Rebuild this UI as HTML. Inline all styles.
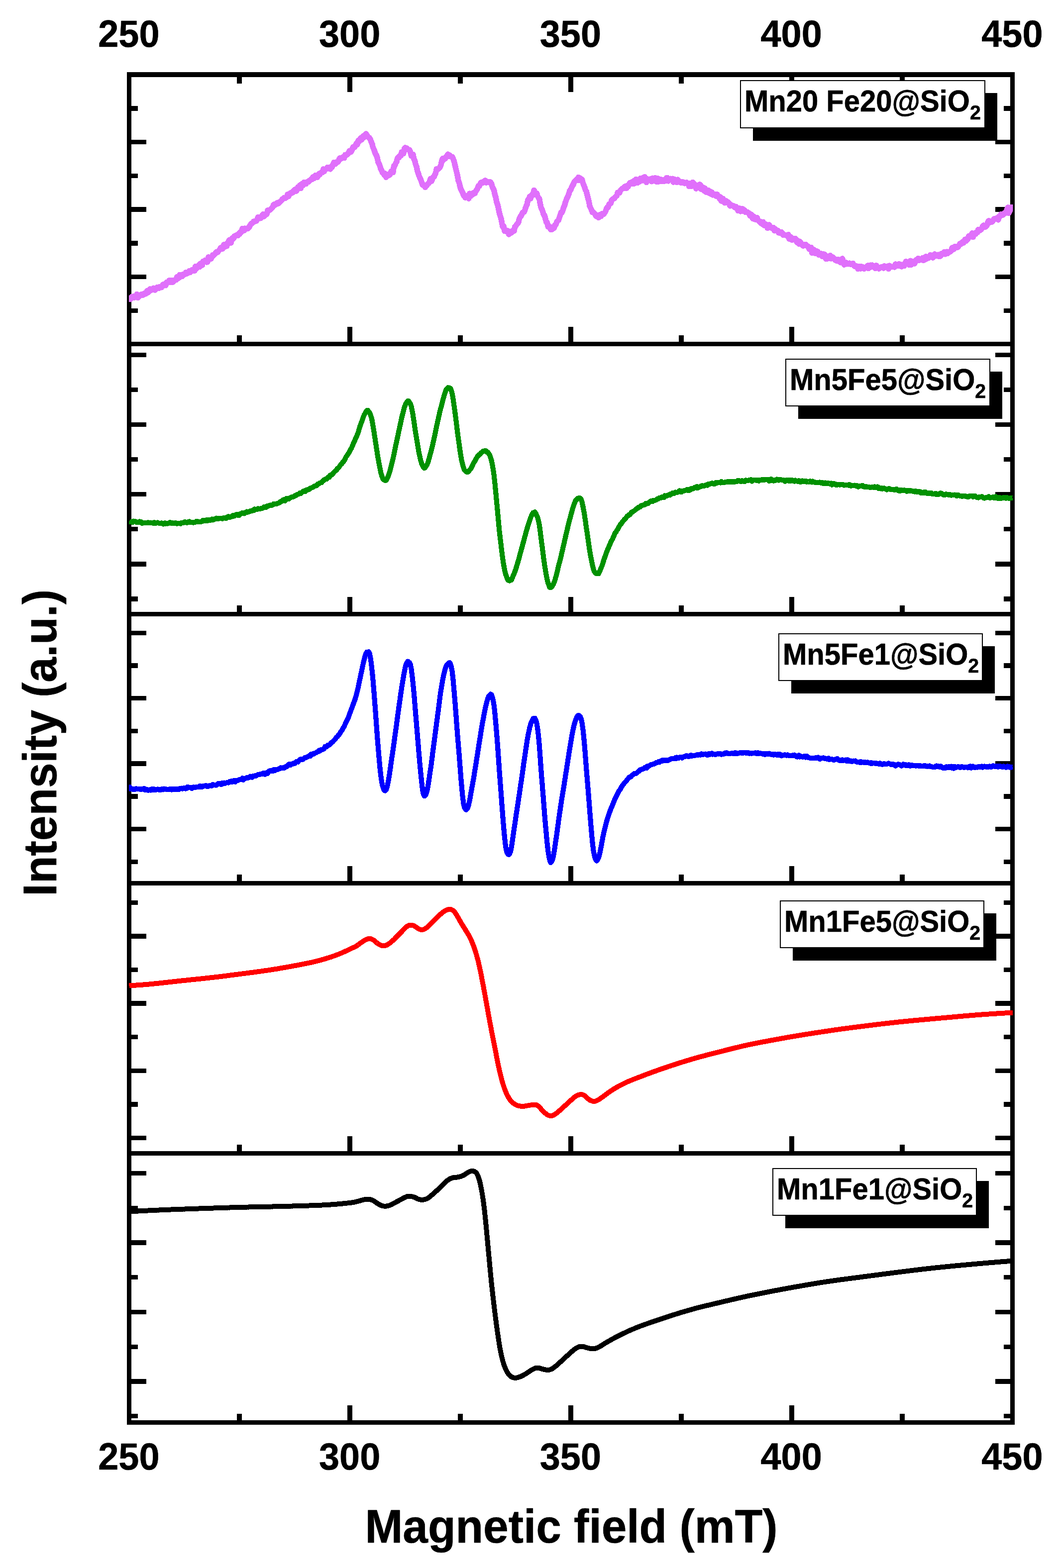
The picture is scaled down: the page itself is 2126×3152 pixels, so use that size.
<!DOCTYPE html>
<html lang="en"><head><meta charset="utf-8"><title>EPR spectra</title>
<style>html,body{margin:0;padding:0;background:#fff}body{width:2126px;height:3152px;overflow:hidden}svg{display:block}text{font-family:"Liberation Sans",sans-serif;font-weight:bold;fill:#000;stroke:#000;stroke-width:0.6px;stroke-linejoin:round}.tk{font-size:75px;text-anchor:middle}.ax{font-size:91px;text-anchor:middle}.lg{font-size:58px}.sub{font-size:39.5px}</style></head><body>
<svg width="2126" height="3152" viewBox="0 0 2126 3152">
<rect x="0" y="0" width="2126" height="3152" fill="#fff"/>
<g fill="#000" shape-rendering="crispEdges">
<rect x="255" y="145" width="9" height="2719"/>
<rect x="2030" y="145" width="9" height="2719"/>
<rect x="255" y="145" width="1784" height="10"/>
<rect x="255" y="2855" width="1784" height="9"/>
<rect x="255" y="687" width="1784" height="9"/>
<rect x="255" y="1230" width="1784" height="9"/>
<rect x="255" y="1771" width="1784" height="9"/>
<rect x="255" y="2314" width="1784" height="9"/>
<rect x="698" y="155" width="10" height="30"/>
<rect x="1142" y="155" width="10" height="30"/>
<rect x="1586" y="155" width="10" height="30"/>
<rect x="476" y="155" width="10" height="13"/>
<rect x="920" y="155" width="10" height="13"/>
<rect x="1364" y="155" width="10" height="13"/>
<rect x="1808" y="155" width="10" height="13"/>
<rect x="698" y="657" width="10" height="30"/>
<rect x="1142" y="657" width="10" height="30"/>
<rect x="1586" y="657" width="10" height="30"/>
<rect x="476" y="674" width="10" height="13"/>
<rect x="920" y="674" width="10" height="13"/>
<rect x="1364" y="674" width="10" height="13"/>
<rect x="1808" y="674" width="10" height="13"/>
<rect x="698" y="1200" width="10" height="30"/>
<rect x="1142" y="1200" width="10" height="30"/>
<rect x="1586" y="1200" width="10" height="30"/>
<rect x="476" y="1217" width="10" height="13"/>
<rect x="920" y="1217" width="10" height="13"/>
<rect x="1364" y="1217" width="10" height="13"/>
<rect x="1808" y="1217" width="10" height="13"/>
<rect x="698" y="1741" width="10" height="30"/>
<rect x="1142" y="1741" width="10" height="30"/>
<rect x="1586" y="1741" width="10" height="30"/>
<rect x="476" y="1758" width="10" height="13"/>
<rect x="920" y="1758" width="10" height="13"/>
<rect x="1364" y="1758" width="10" height="13"/>
<rect x="1808" y="1758" width="10" height="13"/>
<rect x="698" y="2284" width="10" height="30"/>
<rect x="1142" y="2284" width="10" height="30"/>
<rect x="1586" y="2284" width="10" height="30"/>
<rect x="476" y="2301" width="10" height="13"/>
<rect x="920" y="2301" width="10" height="13"/>
<rect x="1364" y="2301" width="10" height="13"/>
<rect x="1808" y="2301" width="10" height="13"/>
<rect x="698" y="2825" width="10" height="30"/>
<rect x="1142" y="2825" width="10" height="30"/>
<rect x="1586" y="2825" width="10" height="30"/>
<rect x="476" y="2842" width="10" height="13"/>
<rect x="920" y="2842" width="10" height="13"/>
<rect x="1364" y="2842" width="10" height="13"/>
<rect x="1808" y="2842" width="10" height="13"/>
<rect x="264" y="213" width="13" height="10"/>
<rect x="2017" y="213" width="13" height="10"/>
<rect x="264" y="281" width="30" height="9"/>
<rect x="2000" y="281" width="30" height="9"/>
<rect x="264" y="349" width="13" height="9"/>
<rect x="2017" y="349" width="13" height="9"/>
<rect x="264" y="416" width="30" height="10"/>
<rect x="2000" y="416" width="30" height="10"/>
<rect x="264" y="484" width="13" height="10"/>
<rect x="2017" y="484" width="13" height="10"/>
<rect x="264" y="552" width="30" height="9"/>
<rect x="2000" y="552" width="30" height="9"/>
<rect x="264" y="620" width="13" height="9"/>
<rect x="2017" y="620" width="13" height="9"/>
<rect x="264" y="709" width="30" height="9"/>
<rect x="2000" y="709" width="30" height="9"/>
<rect x="264" y="779" width="13" height="9"/>
<rect x="2017" y="779" width="13" height="9"/>
<rect x="264" y="849" width="30" height="9"/>
<rect x="2000" y="849" width="30" height="9"/>
<rect x="264" y="919" width="13" height="9"/>
<rect x="2017" y="919" width="13" height="9"/>
<rect x="264" y="989" width="30" height="9"/>
<rect x="2000" y="989" width="30" height="9"/>
<rect x="264" y="1059" width="13" height="9"/>
<rect x="2017" y="1059" width="13" height="9"/>
<rect x="264" y="1129" width="30" height="10"/>
<rect x="2000" y="1129" width="30" height="10"/>
<rect x="264" y="1199" width="13" height="10"/>
<rect x="2017" y="1199" width="13" height="10"/>
<rect x="264" y="1268" width="30" height="9"/>
<rect x="2000" y="1268" width="30" height="9"/>
<rect x="264" y="1333" width="13" height="10"/>
<rect x="2017" y="1333" width="13" height="10"/>
<rect x="264" y="1399" width="30" height="9"/>
<rect x="2000" y="1399" width="30" height="9"/>
<rect x="264" y="1465" width="13" height="9"/>
<rect x="2017" y="1465" width="13" height="9"/>
<rect x="264" y="1530" width="30" height="10"/>
<rect x="2000" y="1530" width="30" height="10"/>
<rect x="264" y="1596" width="13" height="10"/>
<rect x="2017" y="1596" width="13" height="10"/>
<rect x="264" y="1662" width="30" height="9"/>
<rect x="2000" y="1662" width="30" height="9"/>
<rect x="264" y="1728" width="13" height="9"/>
<rect x="2017" y="1728" width="13" height="9"/>
<rect x="264" y="1810" width="13" height="9"/>
<rect x="2017" y="1810" width="13" height="9"/>
<rect x="264" y="1877" width="30" height="10"/>
<rect x="2000" y="1877" width="30" height="10"/>
<rect x="264" y="1945" width="13" height="9"/>
<rect x="2017" y="1945" width="13" height="9"/>
<rect x="264" y="2012" width="30" height="10"/>
<rect x="2000" y="2012" width="30" height="10"/>
<rect x="264" y="2080" width="13" height="9"/>
<rect x="2017" y="2080" width="13" height="9"/>
<rect x="264" y="2148" width="30" height="9"/>
<rect x="2000" y="2148" width="30" height="9"/>
<rect x="264" y="2215" width="13" height="10"/>
<rect x="2017" y="2215" width="13" height="10"/>
<rect x="264" y="2283" width="30" height="9"/>
<rect x="2000" y="2283" width="30" height="9"/>
<rect x="264" y="2354" width="30" height="9"/>
<rect x="2000" y="2354" width="30" height="9"/>
<rect x="264" y="2424" width="13" height="9"/>
<rect x="2017" y="2424" width="13" height="9"/>
<rect x="264" y="2493" width="30" height="10"/>
<rect x="2000" y="2493" width="30" height="10"/>
<rect x="264" y="2563" width="13" height="9"/>
<rect x="2017" y="2563" width="13" height="9"/>
<rect x="264" y="2633" width="30" height="9"/>
<rect x="2000" y="2633" width="30" height="9"/>
<rect x="264" y="2703" width="13" height="9"/>
<rect x="2017" y="2703" width="13" height="9"/>
<rect x="264" y="2772" width="30" height="10"/>
<rect x="2000" y="2772" width="30" height="10"/>
<rect x="264" y="2842" width="13" height="9"/>
<rect x="2017" y="2842" width="13" height="9"/>
</g>
<clipPath id="cp"><rect x="259" y="150" width="1776.5" height="2710"/></clipPath>
<g fill="none" stroke-linejoin="round" stroke-linecap="butt" clip-path="url(#cp)" shape-rendering="crispEdges">
<path stroke="#e070fb" stroke-width="11.5" d="M259.5 598.9L261.2 601.6L263 601L264.8 596.7L266.5 596.8L268.2 595.9L270 598.1L271.8 596.2L273.5 597.7L275.2 591.3L277 598.6L278.8 594.2L280.5 595.4L282.2 593L284 591.8L285.8 593.1L287.5 593.2L289.2 590.2L291 589.6L292.8 590.8L294.5 586.5L296.2 584.3L298 587.9L299.8 584.7L301.5 581.1L303.2 582.9L305 582.9L306.8 580.5L308.5 579.1L310.2 581.8L312 583L313.8 579.7L315.5 577.7L317.2 579.5L319 579.5L320.8 576.4L322.5 577.5L324.2 577.8L326 574.2L327.8 572L329.5 573.8L331.2 572.7L333 573.8L334.8 567.5L336.5 568.1L338.2 566.8L340 563.9L341.8 567.2L343.5 567.2L345.2 563.4L347 567.3L348.8 565.1L350.5 563.7L352.2 562.3L354 562.6L355.8 556.4L357.5 559.9L359.2 558.9L361 552.5L362.8 556.3L364.5 554L366.2 555.4L368 551.6L369.8 551.6L371.5 551.5L373.2 547.7L375 550.1L376.8 547.6L378.5 548L380.2 544.8L382 547.5L383.8 545.5L385.5 542.8L387.2 543.7L389 544.1L390.8 544.4L392.5 535.7L394.2 540.3L396 538.2L397.8 535.9L399.5 532.7L401.2 536.6L403 529.7L404.8 532.6L406.5 533L408.2 525.2L410 526.8L411.8 523.2L413.5 525.4L415.2 526.9L417 526.7L418.8 516.9L420.5 518.2L422.2 519.7L424 520.3L425.8 516.4L427.5 512.4L429.2 513.3L431 511.2L432.8 509.4L434.5 506.8L436.2 507.8L438 506.1L439.8 503.7L441.5 502L443.2 498.1L445 498.3L446.8 500.5L448.5 495.9L450.2 491.6L452 496.2L453.8 492.9L455.5 494.8L457.2 488.8L459 486.1L460.8 482.4L462.5 487L464.2 488.3L466 479.2L467.8 478.1L469.5 479.4L471.2 474.8L473 474.6L474.8 473L476.5 472.8L478.2 473.4L480 469.7L481.8 470.3L483.5 466L485.2 466.4L487 459.5L488.8 459.8L490.5 463.5L492.2 459.2L494 460.5L495.8 459.2L497.5 459.7L499.2 457.3L501 456.5L502.8 452.6L504.5 450.1L506.2 448.7L508 447.9L509.8 445.1L511.5 445.1L513.2 444.7L515 444.1L516.8 441.4L518.5 436.5L520.2 439.1L522 438.4L523.8 438.8L525.5 436.2L527.2 432L529 430.4L530.8 435L532.5 430.7L534.2 431.6L536 430.8L537.8 422.8L539.5 424L541.2 422.7L543 421.5L544.8 420L546.5 417.8L548.2 416.3L550 411.1L551.8 412.7L553.5 410L555.2 410.6L557 408L558.8 409.1L560.5 408.2L562.2 405.8L564 404.5L565.8 402.8L567.5 400.3L569.2 399.7L571 397.7L572.8 398.5L574.5 396.4L576.2 396.4L578 390.9L579.8 394.6L581.5 389.7L583.2 388.5L585 388.4L586.8 386.3L588.5 387L590.2 383.8L592 381.4L593.8 380.6L595.5 384.1L597.2 380L599 375.9L600.8 377.3L602.5 372.5L604.2 378.7L606 370L607.8 373.2L609.5 372.1L611.2 366.4L613 369.1L614.8 369.5L616.5 367.1L618.2 365.5L620 365.8L621.8 362.9L623.5 362.2L625.2 360L627 360.6L628.8 356L630.5 358.8L632.2 354.8L634 352.4L635.8 354.6L637.5 356.5L639.2 353.8L641 349.4L642.8 351.1L644.5 347.4L646.2 347.1L648 346.5L649.8 340L651.5 344.6L653.2 340.7L655 340.4L656.8 337.5L658.5 336.3L660.2 336.4L662 339.2L663.8 339.9L665.5 334.8L667.2 336.1L669 331.7L670.8 326.7L672.5 330L674.2 329.3L676 325.9L677.8 326.1L679.5 325.3L681.2 320.7L683 317.9L684.8 319.2L686.5 317.8L688.2 316L690 317.5L691.8 317.6L693.5 311.3L695.2 312.2L697 311.2L698.8 309.1L700.5 308.2L702.2 303.3L704 304.1L705.8 305.1L707.5 300.6L709.2 295.7L711 296.5L712.8 296L714.5 292.1L716.2 288.1L718 290.7L719.8 282.6L721.5 284.5L723.2 281.5L725 277.2L726.8 280.9L728.5 277.6L730.2 273L732 276L733.8 272.9L735.5 269.1L737.2 271.7L739 274.3L740.8 276.3L742.5 277.4L744.2 280.3L746 285.3L747.8 289L749.5 296.4L751.2 299.8L753 304.9L754.8 310.1L756.5 312.3L758.2 317.7L760 326.3L761.8 329.5L763.5 333.7L765.2 339.6L767 342.5L768.8 347.4L770.5 348.1L772.2 352L774 349L775.8 356.4L777.5 352.8L779.2 350.4L781 352.9L782.8 351.1L784.5 349.8L786.2 344.2L788 343.7L789.8 346.5L791.5 333.6L793.2 333.2L795 328.3L796.8 325.7L798.5 318.4L800.2 316.3L802 316.4L803.8 312.4L805.5 313.1L807.2 305.6L809 305L810.8 308.6L812.5 298.7L814.2 296.9L816 298L817.8 297.9L819.5 300.8L821.2 300.9L823 301.3L824.8 306L826.5 313.8L828.2 314.3L830 310.5L831.8 319.5L833.5 322.9L835.2 330.4L837 334.9L838.8 344L840.5 348.5L842.2 353.8L844 357.8L845.8 362.1L847.5 366.8L849.2 371.9L851 372.7L852.8 372.1L854.5 376.5L856.2 373.8L858 372.4L859.8 369.6L861.5 368.4L863.2 366.2L865 359.3L866.8 364.5L868.5 360.7L870.2 356.2L872 355.8L873.8 351.5L875.5 348.3L877.2 339.6L879 340.9L880.8 339.3L882.5 338.3L884.2 335.7L886 331.8L887.8 323.7L889.5 318.6L891.2 321.7L893 318.3L894.8 318.5L896.5 314.8L898.2 314.6L900 310.1L901.8 314.3L903.5 312.1L905.2 314.1L907 315L908.8 315.4L910.5 319.2L912.2 323.2L914 330.8L915.8 338.5L917.5 345.4L919.2 352.7L921 362.8L922.8 367.5L924.5 375.6L926.2 380.7L928 384.2L929.8 387.6L931.5 392.3L933.2 394.8L935 397.2L936.8 393.5L938.5 394.9L940.2 395.7L942 399L943.8 389.2L945.5 394.5L947.2 391.1L949 391.8L950.8 388.1L952.5 388.2L954.2 388.9L956 384.2L957.8 382.1L959.5 379.2L961.2 374L963 374L964.8 370.3L966.5 367.2L968.2 367.5L970 365.8L971.8 367L973.5 364.4L975.2 362.8L977 367L978.8 365.8L980.5 366.7L982.2 365.9L984 365.4L985.8 366.4L987.5 369.1L989.2 375.2L991 378.9L992.8 382.9L994.5 391.5L996.2 396.7L998 405.8L999.8 411.2L1001.5 418.2L1003.2 427L1005 433.8L1006.8 438.5L1008.5 448.2L1010.2 456.1L1012 454.5L1013.8 464.3L1015.5 461.7L1017.2 463.9L1019 466.1L1020.8 464.1L1022.5 471L1024.2 469.5L1026 466.9L1027.8 467.9L1029.5 464.3L1031.2 464.8L1033 464.2L1034.8 455.5L1036.5 454.1L1038.2 451.5L1040 449.7L1041.8 446.8L1043.5 439.8L1045.2 435.8L1047 434.8L1048.8 430L1050.5 427.1L1052.2 426.8L1054 424.9L1055.8 418.8L1057.5 413.9L1059.2 410.4L1061 401.4L1062.8 400.3L1064.5 394.9L1066.2 399.2L1068 393.5L1069.8 390.5L1071.5 388.4L1073.2 382.3L1075 389.3L1076.8 391.9L1078.5 388.3L1080.2 393.9L1082 397.5L1083.8 399.4L1085.5 409.6L1087.2 417.2L1089 421.1L1090.8 425.6L1092.5 431.8L1094.2 432.6L1096 440.1L1097.8 446.5L1099.5 447.3L1101.2 455.5L1103 456.5L1104.8 455.5L1106.5 461.2L1108.2 459L1110 461L1111.8 456L1113.5 458.5L1115.2 452.2L1117 451.4L1118.8 446.4L1120.5 443.6L1122.2 442.9L1124 437.4L1125.8 432.4L1127.5 426.9L1129.2 427.3L1131 422.4L1132.8 416.3L1134.5 413L1136.2 406.4L1138 401.8L1139.8 397.2L1141.5 394.2L1143.2 389.4L1145 383.1L1146.8 381.5L1148.5 377.6L1150.2 372.9L1152 371.3L1153.8 365.7L1155.5 363.7L1157.2 363L1159 360.4L1160.8 361.4L1162.5 356.3L1164.2 362.6L1166 358.3L1167.8 361.1L1169.5 360.6L1171.2 367.5L1173 372.2L1174.8 376.5L1176.5 381.8L1178.2 384.5L1180 391.9L1181.8 399.3L1183.5 405.6L1185.2 414.8L1187 418.5L1188.8 422.4L1190.5 426.8L1192.2 426.5L1194 428.4L1195.8 430L1197.5 434.3L1199.2 434.9L1201 435.9L1202.8 437.4L1204.5 431.9L1206.2 433.6L1208 434.5L1209.8 429.8L1211.5 429.6L1213.2 430.4L1215 427.8L1216.8 424.9L1218.5 420.1L1220.2 416.8L1222 416.5L1223.8 410.7L1225.5 409.4L1227.2 408.9L1229 403L1230.8 400.3L1232.5 399.5L1234.2 398.9L1236 396.8L1237.8 394.3L1239.5 393.5L1241.2 387.1L1243 387L1244.8 387.5L1246.5 383.4L1248.2 380.9L1250 379.5L1251.8 378.5L1253.5 378.5L1255.2 375.1L1257 376.5L1258.8 378.4L1260.5 373L1262.2 375L1264 371.7L1265.8 367.5L1267.5 368.5L1269.2 366L1271 369.2L1272.8 364.1L1274.5 369.1L1276.2 366.8L1278 360.3L1279.8 366.2L1281.5 367.4L1283.2 361.6L1285 365.3L1286.8 358.5L1288.5 362.9L1290.2 358.2L1292 362.9L1293.8 357.5L1295.5 355.4L1297.2 362.2L1299 366.5L1300.8 359.8L1302.5 363L1304.2 361.3L1306 360.3L1307.8 362.4L1309.5 364.8L1311.2 358.2L1313 362.3L1314.8 361.8L1316.5 357.7L1318.2 364.7L1320 365.5L1321.8 358.8L1323.5 365L1325.2 361.1L1327 360.6L1328.8 364.5L1330.5 361.5L1332.2 361.8L1334 364.5L1335.8 364L1337.5 363.1L1339.2 357.9L1341 357.5L1342.8 363.8L1344.5 359.2L1346.2 361.8L1348 359.2L1349.8 361.4L1351.5 359.2L1353.2 366.2L1355 360.4L1356.8 362.9L1358.5 363.1L1360.2 366.7L1362 361.2L1363.8 364.8L1365.5 364.8L1367.2 366.9L1369 367.2L1370.8 365.5L1372.5 367.5L1374.2 366.4L1376 368.7L1377.8 367.8L1379.5 366.9L1381.2 368.7L1383 369.9L1384.8 374.7L1386.5 368.8L1388.2 371L1390 374.1L1391.8 366.5L1393.5 367.8L1395.2 369.6L1397 372.7L1398.8 379.1L1400.5 375.1L1402.2 377.7L1404 375.2L1405.8 370.8L1407.5 372L1409.2 380.4L1411 379.3L1412.8 376.8L1414.5 383.2L1416.2 378.1L1418 385L1419.8 386.7L1421.5 382.6L1423.2 382.7L1425 388.1L1426.8 384.6L1428.5 390L1430.2 386.3L1432 391.8L1433.8 391.1L1435.5 390.9L1437.2 390.9L1439 394.4L1440.8 390.6L1442.5 395.3L1444.2 396L1446 399.5L1447.8 396.1L1449.5 403.9L1451.2 400.3L1453 399.5L1454.8 406.3L1456.5 407.9L1458.2 404.8L1460 404.2L1461.8 407.3L1463.5 406.7L1465.2 408.6L1467 413.8L1468.8 412L1470.5 412.4L1472.2 413.7L1474 413.7L1475.8 416.5L1477.5 417.4L1479.2 415.4L1481 417.3L1482.8 423.3L1484.5 419.6L1486.2 419L1488 424.9L1489.8 421.1L1491.5 419.5L1493.2 424.5L1495 421.8L1496.8 423.7L1498.5 426.6L1500.2 426.7L1502 426.3L1503.8 427.9L1505.5 428.9L1507.2 434L1509 430.9L1510.8 432.3L1512.5 439.4L1514.2 434.7L1516 440.4L1517.8 441.2L1519.5 439L1521.2 437.3L1523 442.7L1524.8 444.4L1526.5 446.2L1528.2 445.3L1530 449L1531.8 450.6L1533.5 446.2L1535.2 452.9L1537 451.2L1538.8 450.7L1540.5 452.3L1542.2 458.3L1544 457.3L1545.8 452.1L1547.5 457.3L1549.2 457.8L1551 458.7L1552.8 458.8L1554.5 457.6L1556.2 463.8L1558 460.6L1559.8 462.7L1561.5 463.1L1563.2 463.7L1565 467.9L1566.8 467.9L1568.5 466.4L1570.2 466.6L1572 468.6L1573.8 472.7L1575.5 471.6L1577.2 472.7L1579 472.3L1580.8 473.3L1582.5 475.3L1584.2 471.5L1586 480.2L1587.8 475.6L1589.5 477L1591.2 482.3L1593 480.7L1594.8 481.2L1596.5 480.7L1598.2 479.5L1600 484.4L1601.8 487.7L1603.5 484L1605.2 490.2L1607 485.6L1608.8 487.6L1610.5 491.4L1612.2 491.4L1614 494.1L1615.8 491.9L1617.5 492.3L1619.2 491.5L1621 494.1L1622.8 495.4L1624.5 495.7L1626.2 500.6L1628 499.4L1629.8 497.4L1631.5 508.5L1633.2 502L1635 502L1636.8 508.5L1638.5 509.3L1640.2 504.9L1642 505L1643.8 506.9L1645.5 512.5L1647.2 510L1649 509.7L1650.8 512.2L1652.5 515.7L1654.2 510.4L1656 513.4L1657.8 511.8L1659.5 520.5L1661.2 520.3L1663 519L1664.8 517.1L1666.5 519.5L1668.2 513.7L1670 519.8L1671.8 516.6L1673.5 517.2L1675.2 519.2L1677 520.6L1678.8 523.2L1680.5 524.1L1682.2 523.6L1684 521.4L1685.8 525.6L1687.5 524.3L1689.2 527.8L1691 523.6L1692.8 519.9L1694.5 525.6L1696.2 532.1L1698 528.8L1699.8 527.8L1701.5 530.8L1703.2 530.4L1705 530.8L1706.8 529.1L1708.5 530.9L1710.2 531.7L1712 530.2L1713.8 529.6L1715.5 532.9L1717.2 535.2L1719 534.9L1720.8 535L1722.5 535.4L1724.2 540.5L1726 535.5L1727.8 537.6L1729.5 540L1731.2 535.9L1733 536.6L1734.8 538.6L1736.5 540.2L1738.2 537.2L1740 537.5L1741.8 537L1743.5 534.1L1745.2 539.5L1747 536.4L1748.8 533.1L1750.5 536.8L1752.2 533.1L1754 534.8L1755.8 537.2L1757.5 535L1759.2 539.5L1761 533.6L1762.8 537.6L1764.5 538.2L1766.2 540.2L1768 538.9L1769.8 537.2L1771.5 536.8L1773.2 536.4L1775 539L1776.8 534.8L1778.5 537.4L1780.2 535.9L1782 536.5L1783.8 535.2L1785.5 540.6L1787.2 534.1L1789 536.1L1790.8 536L1792.5 536.6L1794.2 536.1L1796 535.9L1797.8 537L1799.5 531.1L1801.2 534.4L1803 531.3L1804.8 534.4L1806.5 530.9L1808.2 531.1L1810 532.9L1811.8 535.9L1813.5 533.6L1815.2 532.5L1817 534.6L1818.8 528.7L1820.5 525.5L1822.2 528.7L1824 528.4L1825.8 531.3L1827.5 532.7L1829.2 524.2L1831 532.3L1832.8 529.6L1834.5 527.3L1836.2 525.7L1838 529.9L1839.8 524L1841.5 522.3L1843.2 523.3L1845 519.4L1846.8 523.2L1848.5 521.5L1850.2 522.2L1852 521.9L1853.8 518.3L1855.5 523.4L1857.2 517.7L1859 521.7L1860.8 515.7L1862.5 519.9L1864.2 516.8L1866 518.4L1867.8 516.5L1869.5 512.6L1871.2 514.7L1873 517L1874.8 517.9L1876.5 512.7L1878.2 510.8L1880 513.3L1881.8 514.4L1883.5 513L1885.2 512.1L1887 515.4L1888.8 515.1L1890.5 514.1L1892.2 509.6L1894 511.3L1895.8 510L1897.5 506.4L1899.2 510.9L1901 508.3L1902.8 506.1L1904.5 509.4L1906.2 507L1908 506.2L1909.8 505.9L1911.5 503.7L1913.2 498.1L1915 498.9L1916.8 500.9L1918.5 495.8L1920.2 496.4L1922 496L1923.8 497.2L1925.5 495.6L1927.2 493.5L1929 489.9L1930.8 491.1L1932.5 489L1934.2 486.2L1936 488.4L1937.8 485.3L1939.5 481.2L1941.2 484.5L1943 479.9L1944.8 480.6L1946.5 474.6L1948.2 476.7L1950 473.4L1951.8 472.1L1953.5 468.8L1955.2 476.7L1957 470.3L1958.8 469.9L1960.5 470.7L1962.2 466.7L1964 466.9L1965.8 461.5L1967.5 463.7L1969.2 461.2L1971 462L1972.8 460L1974.5 455.3L1976.2 453L1978 453.7L1979.8 456.4L1981.5 454.5L1983.2 453.2L1985 446.6L1986.8 443.9L1988.5 447.3L1990.2 446.8L1992 444.9L1993.8 445.9L1995.5 443.5L1997.2 440L1999 439.5L2000.8 440.6L2002.5 439.3L2004.2 437.7L2006 441.8L2007.8 435L2009.5 434.6L2011.2 431L2013 431.3L2014.8 432.1L2016.5 431.1L2018.2 428.3L2020 428.5L2021.8 426.7L2023.5 421.2L2025.2 417L2027 428.7L2028.8 424.3L2030.5 421.3L2032.2 416.5L2034 416.6L2034.5 422.2"/>
<path stroke="#009100" stroke-width="10.2" d="M259.5 1047.7L261.2 1048.8L263 1048.7L264.8 1048.9L266.5 1049.9L268.2 1047.6L270 1048.3L271.8 1047.9L273.5 1049.2L275.2 1050.3L277 1049.6L278.8 1050.2L280.5 1048.2L282.2 1050.2L284 1049.3L285.8 1051.9L287.5 1051.2L289.2 1051.4L291 1050.6L292.8 1051.3L294.5 1051.4L296.2 1050.6L298 1050.5L299.8 1050.9L301.5 1050.6L303.2 1050.7L305 1051L306.8 1050.7L308.5 1052.1L310.2 1050L312 1052.3L313.8 1051L315.5 1051.2L317.2 1050.5L319 1051.6L320.8 1051.6L322.5 1052L324.2 1051.4L326 1052L327.8 1053.5L329.5 1052.3L331.2 1051.4L333 1052.7L334.8 1051.8L336.5 1052.4L338.2 1052.4L340 1051.4L341.8 1050L343.5 1051.4L345.2 1052.1L347 1051.2L348.8 1051.9L350.5 1052.3L352.2 1050.9L354 1052.4L355.8 1052.7L357.5 1052.1L359.2 1052.1L361 1052L362.8 1052.9L364.5 1051L366.2 1050.8L368 1051.2L369.8 1049.8L371.5 1049.1L373.2 1049.6L375 1050.7L376.8 1050.7L378.5 1048.8L380.2 1048.4L382 1049.7L383.8 1049.7L385.5 1049.7L387.2 1050.3L389 1050.6L390.8 1049.6L392.5 1049.8L394.2 1048.1L396 1047.8L397.8 1048.9L399.5 1049.1L401.2 1048.9L403 1048.6L404.8 1048.5L406.5 1048.3L408.2 1045.8L410 1046.4L411.8 1047.2L413.5 1047.1L415.2 1044.9L417 1047L418.8 1045.3L420.5 1045.3L422.2 1045.5L424 1045.6L425.8 1043.4L427.5 1045.4L429.2 1044.3L431 1043.3L432.8 1043.5L434.5 1041.6L436.2 1042.7L438 1043.2L439.8 1042.2L441.5 1042.3L443.2 1042.2L445 1042.1L446.8 1042.7L448.5 1041.4L450.2 1040.9L452 1041.3L453.8 1042.3L455.5 1039.8L457.2 1040.2L459 1038L460.8 1040.2L462.5 1039.2L464.2 1039.4L466 1037.7L467.8 1036.4L469.5 1037.7L471.2 1037.1L473 1035.2L474.8 1034.2L476.5 1035.4L478.2 1034.4L480 1036.4L481.8 1033L483.5 1032.6L485.2 1032.5L487 1030.6L488.8 1030.8L490.5 1032.6L492.2 1030.5L494 1029.6L495.8 1028.5L497.5 1029.7L499.2 1029.2L501 1028.4L502.8 1027.4L504.5 1027.5L506.2 1027.1L508 1025.6L509.8 1026.3L511.5 1023.4L513.2 1023.7L515 1024.1L516.8 1023.8L518.5 1022.4L520.2 1023.2L522 1023.4L523.8 1022.4L525.5 1021.7L527.2 1021.7L529 1020.9L530.8 1019L532.5 1019.4L534.2 1020.2L536 1017.5L537.8 1018.1L539.5 1017.2L541.2 1016.2L543 1015.5L544.8 1015.9L546.5 1015.6L548.2 1015L550 1012.8L551.8 1013.2L553.5 1013.2L555.2 1013L557 1012.1L558.8 1011.6L560.5 1011.2L562.2 1010.2L564 1008.1L565.8 1008.1L567.5 1006.7L569.2 1004.6L571 1004.4L572.8 1006.9L574.5 1003.4L576.2 1001.7L578 1002.3L579.8 1003.3L581.5 1001.2L583.2 1000.8L585 999.4L586.8 998.8L588.5 999.2L590.2 998L592 996.4L593.8 996.5L595.5 995.8L597.2 994L599 993.6L600.8 992.8L602.5 991.2L604.2 992L606 990.1L607.8 988.9L609.5 987.2L611.2 986.8L613 988.3L614.8 985.3L616.5 985.8L618.2 984.2L620 984.1L621.8 983.3L623.5 981.3L625.2 980.8L627 980.2L628.8 979.3L630.5 978.2L632.2 977L634 976.8L635.8 976.3L637.5 974.6L639.2 972.5L641 972.4L642.8 971L644.5 970.2L646.2 970.2L648 967.4L649.8 966.4L651.5 964.6L653.2 963.8L655 962.4L656.8 962.8L658.5 960.5L660.2 958.6L662 959.1L663.8 955.2L665.5 955.4L667.2 954L669 952.1L670.8 949.9L672.5 948.3L674.2 946.5L676 945.4L677.8 941.5L679.5 940.8L681.2 939.2L683 936.6L684.8 933.7L686.5 932.4L688.2 929.7L690 928.1L691.8 925.8L693.5 922.4L695.2 918.6L697 916.7L698.8 913.4L700.5 911.1L702.2 908.4L704 904.5L705.8 901.7L707.5 897.9L709.2 894L711 889.6L712.8 886.2L714.5 881.6L716.2 878.3L718 873.6L719.8 869.2L721.5 863.5L723.2 857.5L725 852.7L726.8 847.8L728.5 843.2L730.2 837.9L732 833.7L733.8 830.6L735.5 827.3L737.2 825.2L739 824.7L740.8 828.5L742.5 829.1L744.2 832.8L746 838.3L747.8 845.7L749.5 855.5L751.2 866.4L753 877.9L754.8 889.3L756.5 900.8L758.2 912L760 922.5L761.8 932.5L763.5 941.2L765.2 949.5L767 956L768.8 960.8L770.5 964.1L772.2 964.9L774 966.1L775.8 965.3L777.5 963.2L779.2 959.4L781 954.9L782.8 949.2L784.5 943L786.2 936.1L788 929.4L789.8 922L791.5 913.6L793.2 905.2L795 896.7L796.8 888.5L798.5 880.6L800.2 872.2L802 864.2L803.8 855.9L805.5 847.8L807.2 839.7L809 832.6L810.8 825.4L812.5 819.1L814.2 814.8L816 810.7L817.8 807.6L819.5 805.7L821.2 806.3L823 809L824.8 812.3L826.5 817L828.2 824.8L830 835.3L831.8 847.4L833.5 858.9L835.2 870.2L837 881.4L838.8 892L840.5 902.1L842.2 911.3L844 919.6L845.8 926.7L847.5 932.5L849.2 935.9L851 939.4L852.8 941L854.5 939.8L856.2 937.2L858 934.4L859.8 930.2L861.5 924.5L863.2 918L865 911.4L866.8 905L868.5 898.2L870.2 890.7L872 882.7L873.8 874.5L875.5 866.2L877.2 857.6L879 849.7L880.8 841.4L882.5 833.6L884.2 826.3L886 819.7L887.8 813.3L889.5 805.7L891.2 799.9L893 793.5L894.8 787.8L896.5 783.4L898.2 782L900 779.2L901.8 780L903.5 779.6L905.2 781.1L907 784.9L908.8 791.9L910.5 802.2L912.2 813.9L914 826.6L915.8 840L917.5 854.1L919.2 868.1L921 881.6L922.8 894.4L924.5 906.5L926.2 917.5L928 927.1L929.8 934.5L931.5 940.3L933.2 944.8L935 946.4L936.8 948.3L938.5 949L940.2 948.7L942 947.2L943.8 944.5L945.5 943L947.2 940.1L949 936.7L950.8 932.3L952.5 929.5L954.2 927.2L956 923.1L957.8 920.4L959.5 917.4L961.2 915.8L963 913.9L964.8 913.2L966.5 910.5L968.2 909.4L970 907.1L971.8 907.1L973.5 906.5L975.2 906.7L977 906.4L978.8 909.6L980.5 909.2L982.2 911.9L984 914.4L985.8 919.5L987.5 925.4L989.2 932.8L991 943.4L992.8 956.3L994.5 971.7L996.2 989.4L998 1008.5L999.8 1027.7L1001.5 1046.7L1003.2 1064.9L1005 1080.8L1006.8 1095.8L1008.5 1110L1010.2 1123.1L1012 1134.7L1013.8 1144.5L1015.5 1152.3L1017.2 1157.5L1019 1162.3L1020.8 1166L1022.5 1167.3L1024.2 1167.5L1026 1166.5L1027.8 1165.9L1029.5 1161.4L1031.2 1157.3L1033 1153.6L1034.8 1148.6L1036.5 1143.8L1038.2 1138.2L1040 1132.2L1041.8 1126.3L1043.5 1119.8L1045.2 1113.3L1047 1106.9L1048.8 1100.5L1050.5 1094.4L1052.2 1087.9L1054 1081.3L1055.8 1074.6L1057.5 1068.1L1059.2 1062.4L1061 1056.8L1062.8 1051.4L1064.5 1045.9L1066.2 1040.9L1068 1036.8L1069.8 1032.8L1071.5 1030.4L1073.2 1030.4L1075 1029.1L1076.8 1032.3L1078.5 1036.2L1080.2 1040.4L1082 1046.4L1083.8 1055.4L1085.5 1067.8L1087.2 1081.6L1089 1095.4L1090.8 1109.2L1092.5 1122.5L1094.2 1135L1096 1146.3L1097.8 1156.4L1099.5 1164.9L1101.2 1171.7L1103 1176.6L1104.8 1181L1106.5 1181.3L1108.2 1179.8L1110 1177.8L1111.8 1174.6L1113.5 1170.8L1115.2 1166L1117 1159.6L1118.8 1152.6L1120.5 1145.6L1122.2 1138.2L1124 1131.7L1125.8 1124.5L1127.5 1117.7L1129.2 1110.1L1131 1102.6L1132.8 1095.1L1134.5 1087.3L1136.2 1079.9L1138 1072.1L1139.8 1064.6L1141.5 1057.3L1143.2 1050.2L1145 1043.5L1146.8 1036.7L1148.5 1030.6L1150.2 1024.2L1152 1018.6L1153.8 1013.2L1155.5 1008.8L1157.2 1005.5L1159 1004.1L1160.8 1001.9L1162.5 1001.9L1164.2 1000.8L1166 1001.8L1167.8 1003.4L1169.5 1009L1171.2 1016.9L1173 1026.2L1174.8 1036.9L1176.5 1048.4L1178.2 1060.4L1180 1072.6L1181.8 1085L1183.5 1097.3L1185.2 1108.5L1187 1118.5L1188.8 1127.7L1190.5 1136.4L1192.2 1142.9L1194 1148.4L1195.8 1151.2L1197.5 1152.7L1199.2 1152.4L1201 1151.5L1202.8 1153.3L1204.5 1149.3L1206.2 1146L1208 1141.3L1209.8 1137.2L1211.5 1131.9L1213.2 1126.1L1215 1121L1216.8 1115.9L1218.5 1111.1L1220.2 1106.6L1222 1102.9L1223.8 1098.4L1225.5 1094.5L1227.2 1090.2L1229 1086.8L1230.8 1083.7L1232.5 1079.2L1234.2 1075.8L1236 1071.2L1237.8 1069.6L1239.5 1066.1L1241.2 1063.8L1243 1060.5L1244.8 1057.3L1246.5 1054.5L1248.2 1053L1250 1050.4L1251.8 1047.5L1253.5 1046L1255.2 1043.6L1257 1042.5L1258.8 1039.9L1260.5 1037.6L1262.2 1036.7L1264 1034.7L1265.8 1034.6L1267.5 1031.7L1269.2 1029.6L1271 1029.1L1272.8 1027.6L1274.5 1026.7L1276.2 1025.4L1278 1023.2L1279.8 1022.8L1281.5 1021.7L1283.2 1019.7L1285 1019.2L1286.8 1018.8L1288.5 1016.4L1290.2 1015.9L1292 1015.5L1293.8 1014.9L1295.5 1014.6L1297.2 1012.2L1299 1012.8L1300.8 1012.3L1302.5 1012.3L1304.2 1009.9L1306 1008.7L1307.8 1007.4L1309.5 1008.4L1311.2 1008.3L1313 1005.9L1314.8 1006.1L1316.5 1005.8L1318.2 1005.1L1320 1003.3L1321.8 1003.5L1323.5 1002.2L1325.2 1000.7L1327 1001.1L1328.8 1000.5L1330.5 998.7L1332.2 999.3L1334 1000L1335.8 996.3L1337.5 997.6L1339.2 997.2L1341 995.9L1342.8 995.5L1344.5 994.4L1346.2 995.3L1348 992.7L1349.8 992.9L1351.5 990.8L1353.2 992.2L1355 991.8L1356.8 989.5L1358.5 989.7L1360.2 990.4L1362 989.1L1363.8 987.9L1365.5 986.3L1367.2 988.4L1369 989.3L1370.8 986.8L1372.5 987.1L1374.2 986.6L1376 985.7L1377.8 985.5L1379.5 985L1381.2 983.7L1383 986.3L1384.8 986L1386.5 983.5L1388.2 984.3L1390 981.6L1391.8 981.7L1393.5 982.4L1395.2 980L1397 979.4L1398.8 980.4L1400.5 977.9L1402.2 980.8L1404 979.5L1405.8 978.6L1407.5 978.6L1409.2 976.7L1411 976.3L1412.8 977.4L1414.5 977.1L1416.2 976L1418 975.4L1419.8 974.5L1421.5 975.8L1423.2 972.9L1425 973L1426.8 972.9L1428.5 971.7L1430.2 971.5L1432 971.4L1433.8 972.9L1435.5 973.3L1437.2 971.7L1439 969.7L1440.8 970.3L1442.5 970.5L1444.2 970.2L1446 969.9L1447.8 970.5L1449.5 968.1L1451.2 969.2L1453 969.7L1454.8 970L1456.5 969.5L1458.2 969.1L1460 968.9L1461.8 968.2L1463.5 968.8L1465.2 968.4L1467 967.8L1468.8 969.4L1470.5 969.3L1472.2 967.8L1474 968.5L1475.8 968.9L1477.5 967.9L1479.2 967.7L1481 967.9L1482.8 965.8L1484.5 965.9L1486.2 967.5L1488 967.2L1489.8 968L1491.5 966.2L1493.2 967.5L1495 967.3L1496.8 968L1498.5 965.4L1500.2 965.7L1502 966.2L1503.8 966L1505.5 964.8L1507.2 965.1L1509 964.3L1510.8 967.5L1512.5 965.2L1514.2 965.2L1516 964.6L1517.8 965.1L1519.5 965.7L1521.2 964.7L1523 964.9L1524.8 966.8L1526.5 965.7L1528.2 965L1530 964.4L1531.8 964.7L1533.5 964.1L1535.2 965L1537 964.1L1538.8 964L1540.5 964.3L1542.2 963.7L1544 964.9L1545.8 967L1547.5 964.2L1549.2 963.2L1551 965.6L1552.8 964.7L1554.5 966.6L1556.2 965.2L1558 965.7L1559.8 964.2L1561.5 963.5L1563.2 964.8L1565 965.6L1566.8 964.3L1568.5 963.7L1570.2 964.7L1572 964.9L1573.8 965.1L1575.5 965.4L1577.2 967.7L1579 965.6L1580.8 965.2L1582.5 964.8L1584.2 966.6L1586 964.6L1587.8 967.4L1589.5 966.2L1591.2 965L1593 966.6L1594.8 966.5L1596.5 967.8L1598.2 965.5L1600 967.1L1601.8 967L1603.5 968L1605.2 966.3L1607 966.7L1608.8 969.2L1610.5 968.1L1612.2 966.4L1614 968.1L1615.8 967.2L1617.5 967.4L1619.2 967L1621 969L1622.8 967.8L1624.5 968.5L1626.2 968.5L1628 967.2L1629.8 968L1631.5 969.5L1633.2 967.5L1635 969.3L1636.8 969.1L1638.5 969.9L1640.2 970.1L1642 970.4L1643.8 969.9L1645.5 970.2L1647.2 969.5L1649 969.9L1650.8 971.3L1652.5 970.2L1654.2 971.8L1656 972L1657.8 970.6L1659.5 972L1661.2 970.9L1663 972.1L1664.8 971.3L1666.5 972.5L1668.2 972.5L1670 971.6L1671.8 974.6L1673.5 973.8L1675.2 971.7L1677 973.6L1678.8 973.1L1680.5 975.4L1682.2 973.7L1684 974.3L1685.8 973.9L1687.5 974.8L1689.2 973.9L1691 973.7L1692.8 974.2L1694.5 974.4L1696.2 975.5L1698 975.1L1699.8 974.8L1701.5 974.9L1703.2 974.6L1705 975.6L1706.8 973.8L1708.5 975.6L1710.2 977L1712 975.7L1713.8 975.6L1715.5 976.3L1717.2 975.6L1719 975.9L1720.8 977.3L1722.5 976.2L1724.2 978.7L1726 977.6L1727.8 977.1L1729.5 976.8L1731.2 977.3L1733 975.6L1734.8 978L1736.5 978.7L1738.2 978.6L1740 977.9L1741.8 979L1743.5 979.2L1745.2 978.6L1747 979.2L1748.8 980L1750.5 979.7L1752.2 979.1L1754 979.6L1755.8 979.9L1757.5 978.5L1759.2 980.2L1761 980.2L1762.8 978.5L1764.5 979.1L1766.2 982.4L1768 981.1L1769.8 982.4L1771.5 981L1773.2 982.9L1775 982.2L1776.8 981.3L1778.5 982.3L1780.2 983.6L1782 984.5L1783.8 983L1785.5 982.4L1787.2 982.2L1789 983.7L1790.8 984.3L1792.5 983.6L1794.2 983.6L1796 984.6L1797.8 984.4L1799.5 984.5L1801.2 983L1803 984.2L1804.8 986.4L1806.5 984.9L1808.2 987.2L1810 985.6L1811.8 985.2L1813.5 985.9L1815.2 986.3L1817 985.3L1818.8 986.3L1820.5 985.9L1822.2 987.8L1824 986.3L1825.8 986.9L1827.5 985.7L1829.2 986L1831 987.3L1832.8 986.7L1834.5 987.5L1836.2 988.1L1838 988.6L1839.8 987L1841.5 988.3L1843.2 989.2L1845 988.2L1846.8 987.8L1848.5 988.5L1850.2 990.8L1852 989.5L1853.8 991L1855.5 989.6L1857.2 991.1L1859 988.9L1860.8 990.1L1862.5 990.6L1864.2 992.3L1866 991.3L1867.8 992.1L1869.5 990.9L1871.2 991L1873 992.7L1874.8 993L1876.5 993L1878.2 993.2L1880 991.8L1881.8 994.4L1883.5 992.8L1885.2 993.9L1887 993.6L1888.8 991.5L1890.5 991.5L1892.2 992L1894 993.6L1895.8 994.8L1897.5 993.7L1899.2 994.9L1901 993.2L1902.8 993.9L1904.5 993.8L1906.2 994.8L1908 993.8L1909.8 994.9L1911.5 995.7L1913.2 994.9L1915 994.7L1916.8 995.2L1918.5 994.6L1920.2 994.9L1922 996.7L1923.8 996.5L1925.5 995L1927.2 996.2L1929 996.9L1930.8 997.4L1932.5 997.4L1934.2 997.8L1936 997L1937.8 997.2L1939.5 997.1L1941.2 998.4L1943 998.3L1944.8 999.3L1946.5 998.8L1948.2 997.1L1950 996.7L1951.8 996.9L1953.5 997.4L1955.2 998.9L1957 997.2L1958.8 996.7L1960.5 998.5L1962.2 999.5L1964 999.6L1965.8 1000.5L1967.5 999L1969.2 998.7L1971 999L1972.8 998.2L1974.5 998.8L1976.2 1000.7L1978 1001.5L1979.8 1000.9L1981.5 1000.1L1983.2 999.7L1985 1000.2L1986.8 998.3L1988.5 1000.6L1990.2 1000.9L1992 1000.1L1993.8 1000.3L1995.5 998.8L1997.2 1001.1L1999 1001.2L2000.8 998L2002.5 1000L2004.2 1000.9L2006 1002.1L2007.8 999.9L2009.5 1000.6L2011.2 1002L2013 1001.1L2014.8 1000.5L2016.5 1000.3L2018.2 1000.8L2020 1000L2021.8 1001.7L2023.5 1000L2025.2 1001.3L2027 1001.6L2028.8 1001.8L2030.5 1000.9L2032.2 1000.8L2034 1001.1L2034.5 1000.8"/>
<path stroke="#0000ff" stroke-width="10.2" d="M259.5 1586.7L261.2 1582.4L263 1586.1L264.8 1585.4L266.5 1586.6L268.2 1585.8L270 1587.2L271.8 1585.7L273.5 1585.3L275.2 1586.3L277 1586.3L278.8 1585.7L280.5 1585.9L282.2 1586.8L284 1586.9L285.8 1585.9L287.5 1586.1L289.2 1584.9L291 1588.1L292.8 1586.5L294.5 1588L296.2 1587.2L298 1588.7L299.8 1588.4L301.5 1587.3L303.2 1588.4L305 1586.3L306.8 1588.3L308.5 1585.9L310.2 1587.5L312 1588.2L313.8 1587.4L315.5 1586.9L317.2 1586.5L319 1586.9L320.8 1588.1L322.5 1587.9L324.2 1586.8L326 1585.9L327.8 1587.5L329.5 1585.6L331.2 1586.3L333 1586.1L334.8 1587.3L336.5 1586.8L338.2 1586.9L340 1586.7L341.8 1585.7L343.5 1586.8L345.2 1587.5L347 1586.1L348.8 1586.6L350.5 1585.9L352.2 1586.8L354 1586.4L355.8 1586.5L357.5 1585.9L359.2 1587L361 1585.1L362.8 1585L364.5 1584.6L366.2 1585.6L368 1584.4L369.8 1584.2L371.5 1585.3L373.2 1585.5L375 1584.9L376.8 1581.8L378.5 1583.2L380.2 1582.9L382 1582.6L383.8 1583.1L385.5 1584.9L387.2 1582.9L389 1582.3L390.8 1583.4L392.5 1582.6L394.2 1582.5L396 1581.6L397.8 1582L399.5 1582.2L401.2 1579.9L403 1579.9L404.8 1582.2L406.5 1581.7L408.2 1580.3L410 1579.7L411.8 1580.2L413.5 1579.1L415.2 1579.6L417 1581.2L418.8 1579.6L420.5 1580.3L422.2 1578.8L424 1579.1L425.8 1579.7L427.5 1577.1L429.2 1577.7L431 1577.6L432.8 1577.7L434.5 1578.5L436.2 1577.4L438 1575.2L439.8 1576L441.5 1575.1L443.2 1574.8L445 1577.1L446.8 1574L448.5 1574.8L450.2 1573.6L452 1574.7L453.8 1573.9L455.5 1573.3L457.2 1572.8L459 1573.5L460.8 1571.3L462.5 1571.2L464.2 1570.4L466 1572.2L467.8 1570.4L469.5 1569.4L471.2 1569.6L473 1571.8L474.8 1569L476.5 1569.5L478.2 1568.7L480 1567.9L481.8 1566.9L483.5 1566.8L485.2 1566.3L487 1564.2L488.8 1568L490.5 1566.1L492.2 1564.9L494 1564.1L495.8 1563.1L497.5 1564.2L499.2 1562.7L501 1562.8L502.8 1560.7L504.5 1561.7L506.2 1562.7L508 1560.2L509.8 1560.7L511.5 1559.5L513.2 1560L515 1559.5L516.8 1558.1L518.5 1557.1L520.2 1557.4L522 1556.8L523.8 1555.7L525.5 1556.2L527.2 1555.8L529 1554.2L530.8 1554.4L532.5 1556.6L534.2 1554.3L536 1553.2L537.8 1554.9L539.5 1551.8L541.2 1549.5L543 1549.5L544.8 1549.3L546.5 1550.3L548.2 1550.4L550 1547.1L551.8 1549.4L553.5 1546.8L555.2 1547.5L557 1547.1L558.8 1546.5L560.5 1545.5L562.2 1545L564 1543.3L565.8 1543.9L567.5 1543.8L569.2 1543.1L571 1543.9L572.8 1542L574.5 1541L576.2 1541.1L578 1539.2L579.8 1537.2L581.5 1535.7L583.2 1538.1L585 1536.8L586.8 1536.3L588.5 1534.6L590.2 1534.5L592 1535L593.8 1533L595.5 1531L597.2 1530.8L599 1531.6L600.8 1528.7L602.5 1526.7L604.2 1526.1L606 1526.1L607.8 1527.1L609.5 1525.7L611.2 1524.1L613 1522.8L614.8 1523L616.5 1522.1L618.2 1520.9L620 1520.2L621.8 1518.9L623.5 1520.2L625.2 1515.8L627 1517L628.8 1515.1L630.5 1515.7L632.2 1514L634 1513.6L635.8 1512.8L637.5 1511.6L639.2 1511.3L641 1508.4L642.8 1509.4L644.5 1507.5L646.2 1507L648 1506.9L649.8 1505.5L651.5 1505.2L653.2 1500.7L655 1500.6L656.8 1501L658.5 1498.1L660.2 1497.6L662 1497.7L663.8 1495.7L665.5 1492.8L667.2 1492.4L669 1490.9L670.8 1488.8L672.5 1486.9L674.2 1485.2L676 1482.2L677.8 1481.2L679.5 1478.3L681.2 1476.8L683 1474.4L684.8 1471.1L686.5 1469.1L688.2 1466L690 1462.8L691.8 1459.8L693.5 1455.9L695.2 1452.2L697 1448.8L698.8 1444.8L700.5 1441.1L702.2 1435.6L704 1431.7L705.8 1426.5L707.5 1421.9L709.2 1417.2L711 1412.3L712.8 1407.7L714.5 1402.4L716.2 1395.9L718 1389.3L719.8 1381.8L721.5 1373.4L723.2 1365L725 1356.5L726.8 1348.7L728.5 1340.1L730.2 1332.4L732 1324.9L733.8 1318.4L735.5 1313.2L737.2 1310.7L739 1311L740.8 1310.2L742.5 1312.8L744.2 1320.8L746 1334L747.8 1349.1L749.5 1366.9L751.2 1388.1L753 1410.8L754.8 1434.3L756.5 1458.2L758.2 1481.5L760 1503.9L761.8 1524.8L763.5 1543.4L765.2 1559L767 1571.3L768.8 1579.9L770.5 1585.2L772.2 1588.7L774 1589.5L775.8 1588L777.5 1583.1L779.2 1575.9L781 1566.6L782.8 1555.3L784.5 1543.5L786.2 1531.2L788 1519.1L789.8 1507L791.5 1494.9L793.2 1482.5L795 1469.8L796.8 1456.7L798.5 1443.7L800.2 1430.9L802 1418.1L803.8 1405.6L805.5 1393.5L807.2 1382L809 1371.3L810.8 1360.6L812.5 1350.7L814.2 1342.4L816 1335.7L817.8 1332.2L819.5 1329.6L821.2 1330.6L823 1332.1L824.8 1336.1L826.5 1345.3L828.2 1358.4L830 1374.5L831.8 1393.1L833.5 1413.8L835.2 1435.1L837 1456.3L838.8 1477.5L840.5 1498.6L842.2 1519.3L844 1539.4L845.8 1557.6L847.5 1574L849.2 1588L851 1597.1L852.8 1600.2L854.5 1599.2L856.2 1596.2L858 1590.2L859.8 1581.2L861.5 1570.7L863.2 1559.1L865 1547.3L866.8 1534.7L868.5 1521.5L870.2 1507.9L872 1494.3L873.8 1480.9L875.5 1467.7L877.2 1454.4L879 1441.1L880.8 1427.5L882.5 1413.9L884.2 1400.4L886 1388L887.8 1377.1L889.5 1367.4L891.2 1358.7L893 1350.5L894.8 1343.9L896.5 1338.9L898.2 1336.3L900 1334.2L901.8 1333.2L903.5 1331.8L905.2 1335L907 1340.8L908.8 1351.1L910.5 1366.5L912.2 1385.8L914 1407.3L915.8 1430L917.5 1453.2L919.2 1475.5L921 1497.5L922.8 1519.4L924.5 1541.5L926.2 1563.4L928 1584.6L929.8 1603L931.5 1615.7L933.2 1622.7L935 1625.9L936.8 1627.9L938.5 1626.1L940.2 1623.4L942 1616.8L943.8 1608.6L945.5 1599L947.2 1589.2L949 1579.7L950.8 1569.8L952.5 1560L954.2 1549L956 1537.9L957.8 1526.7L959.5 1515.8L961.2 1504.5L963 1493.4L964.8 1482.3L966.5 1471.4L968.2 1460.8L970 1450.7L971.8 1441L973.5 1431.7L975.2 1423.4L977 1415.8L978.8 1409.1L980.5 1403.5L982.2 1399L984 1398.4L985.8 1395.4L987.5 1396.5L989.2 1400.9L991 1407.6L992.8 1418.3L994.5 1434.1L996.2 1453.2L998 1474.1L999.8 1496.7L1001.5 1521.1L1003.2 1546.2L1005 1570.3L1006.8 1593.7L1008.5 1616.8L1010.2 1639.7L1012 1661.9L1013.8 1681.6L1015.5 1697.3L1017.2 1708L1019 1714.3L1020.8 1716.9L1022.5 1718.2L1024.2 1716L1026 1711.4L1027.8 1702.3L1029.5 1691.3L1031.2 1679L1033 1666.8L1034.8 1655.1L1036.5 1643.3L1038.2 1631.7L1040 1620.1L1041.8 1608.4L1043.5 1596.8L1045.2 1585L1047 1573.2L1048.8 1561.2L1050.5 1548.9L1052.2 1536.5L1054 1524.2L1055.8 1512.2L1057.5 1500.5L1059.2 1489.2L1061 1479L1062.8 1470.1L1064.5 1462.4L1066.2 1456.1L1068 1451L1069.8 1447.5L1071.5 1444.1L1073.2 1443.8L1075 1443.9L1076.8 1447.8L1078.5 1453.9L1080.2 1463.8L1082 1478.9L1083.8 1499L1085.5 1522.6L1087.2 1547L1089 1569.6L1090.8 1591.6L1092.5 1613.5L1094.2 1635.4L1096 1656.8L1097.8 1676.8L1099.5 1694.8L1101.2 1709.6L1103 1721.4L1104.8 1729.4L1106.5 1734.2L1108.2 1732.4L1110 1728.9L1111.8 1721.7L1113.5 1712.3L1115.2 1701.1L1117 1689L1118.8 1676.7L1120.5 1664.4L1122.2 1651.6L1124 1638.8L1125.8 1626.5L1127.5 1614.8L1129.2 1603.7L1131 1592.9L1132.8 1582.3L1134.5 1571.5L1136.2 1560.3L1138 1549L1139.8 1537.5L1141.5 1526.2L1143.2 1515L1145 1503.8L1146.8 1493.2L1148.5 1482.9L1150.2 1473.8L1152 1464.6L1153.8 1457.2L1155.5 1450.9L1157.2 1446.3L1159 1441.8L1160.8 1438.6L1162.5 1438.2L1164.2 1438.5L1166 1440.8L1167.8 1444.7L1169.5 1452.7L1171.2 1464.3L1173 1480.8L1174.8 1500.7L1176.5 1522L1178.2 1544.2L1180 1566.3L1181.8 1587.9L1183.5 1609.5L1185.2 1631.4L1187 1653.9L1188.8 1675.3L1190.5 1693.6L1192.2 1707.8L1194 1718.1L1195.8 1725.4L1197.5 1728.9L1199.2 1730.6L1201 1727.6L1202.8 1723.7L1204.5 1718.5L1206.2 1710.9L1208 1701.7L1209.8 1691.8L1211.5 1682.5L1213.2 1674.7L1215 1667.4L1216.8 1660L1218.5 1652.9L1220.2 1647.1L1222 1641.5L1223.8 1636.1L1225.5 1631.5L1227.2 1626.8L1229 1622.6L1230.8 1618.4L1232.5 1614.1L1234.2 1609.8L1236 1605.4L1237.8 1601.9L1239.5 1598.2L1241.2 1595.5L1243 1591.4L1244.8 1588.5L1246.5 1586.6L1248.2 1583.3L1250 1580.1L1251.8 1577.9L1253.5 1575.6L1255.2 1573.4L1257 1571.7L1258.8 1569.5L1260.5 1567.2L1262.2 1565.3L1264 1562.7L1265.8 1562.1L1267.5 1561.8L1269.2 1559.7L1271 1557.6L1272.8 1556.7L1274.5 1554.9L1276.2 1554.7L1278 1554.9L1279.8 1553.7L1281.5 1552.1L1283.2 1550.7L1285 1548.9L1286.8 1547.1L1288.5 1547.1L1290.2 1545.8L1292 1545.9L1293.8 1544.5L1295.5 1543L1297.2 1543L1299 1544.2L1300.8 1540.1L1302.5 1541L1304.2 1539.8L1306 1538.4L1307.8 1537.1L1309.5 1537L1311.2 1536.5L1313 1536.3L1314.8 1535.6L1316.5 1534.6L1318.2 1533.1L1320 1533.4L1321.8 1532.1L1323.5 1531.1L1325.2 1532.3L1327 1530.4L1328.8 1529.4L1330.5 1530.1L1332.2 1527.8L1334 1529L1335.8 1529L1337.5 1527.8L1339.2 1528L1341 1529.3L1342.8 1528.3L1344.5 1527.5L1346.2 1526.8L1348 1525.4L1349.8 1525.4L1351.5 1524.9L1353.2 1524.9L1355 1524.6L1356.8 1523.5L1358.5 1525.3L1360.2 1522.6L1362 1523.5L1363.8 1523.8L1365.5 1522.6L1367.2 1521.7L1369 1522L1370.8 1523.5L1372.5 1522L1374.2 1520.9L1376 1521.4L1377.8 1520.5L1379.5 1518.7L1381.2 1520.4L1383 1520.8L1384.8 1520.7L1386.5 1519.4L1388.2 1518L1390 1520.1L1391.8 1518.7L1393.5 1519.3L1395.2 1519.4L1397 1518.6L1398.8 1518L1400.5 1517.4L1402.2 1517.4L1404 1517.6L1405.8 1517.1L1407.5 1517.7L1409.2 1515.4L1411 1516.2L1412.8 1516.9L1414.5 1516.2L1416.2 1516.3L1418 1515.6L1419.8 1517.2L1421.5 1518L1423.2 1515.5L1425 1517.4L1426.8 1514.9L1428.5 1516.3L1430.2 1514.3L1432 1516.5L1433.8 1516L1435.5 1516L1437.2 1516.9L1439 1516.3L1440.8 1515.7L1442.5 1514.9L1444.2 1515.6L1446 1514.8L1447.8 1515L1449.5 1516.6L1451.2 1516L1453 1515.4L1454.8 1515.6L1456.5 1513.6L1458.2 1514.9L1460 1513.2L1461.8 1514.1L1463.5 1514.9L1465.2 1514.8L1467 1515.1L1468.8 1514.5L1470.5 1514.3L1472.2 1514.2L1474 1515.4L1475.8 1515.3L1477.5 1512.8L1479.2 1514.1L1481 1515.2L1482.8 1513.7L1484.5 1514.1L1486.2 1513.4L1488 1512.8L1489.8 1514L1491.5 1513.5L1493.2 1513.7L1495 1512.6L1496.8 1512.8L1498.5 1513.8L1500.2 1513.5L1502 1514.4L1503.8 1513L1505.5 1514.6L1507.2 1514.5L1509 1514.2L1510.8 1514.7L1512.5 1514.1L1514.2 1514L1516 1514.2L1517.8 1513.2L1519.5 1514.4L1521.2 1515.2L1523 1513.1L1524.8 1515.2L1526.5 1514.1L1528.2 1514.4L1530 1514.9L1531.8 1515.1L1533.5 1516.2L1535.2 1514.9L1537 1516.7L1538.8 1515.3L1540.5 1515.8L1542.2 1516.1L1544 1514.9L1545.8 1514.6L1547.5 1515.9L1549.2 1516.5L1551 1516.8L1552.8 1515.8L1554.5 1517.8L1556.2 1516.2L1558 1515.9L1559.8 1517.6L1561.5 1517.8L1563.2 1516L1565 1517.7L1566.8 1516L1568.5 1517.3L1570.2 1519.4L1572 1518.7L1573.8 1518.3L1575.5 1518.4L1577.2 1517.2L1579 1518.4L1580.8 1518.6L1582.5 1517.4L1584.2 1518.7L1586 1519.1L1587.8 1518.9L1589.5 1519.3L1591.2 1518.8L1593 1518.2L1594.8 1519.3L1596.5 1517.7L1598.2 1519L1600 1520.7L1601.8 1521.5L1603.5 1520.4L1605.2 1518.1L1607 1521.6L1608.8 1521L1610.5 1520.5L1612.2 1521.6L1614 1521.5L1615.8 1520.2L1617.5 1520.2L1619.2 1522.5L1621 1519.7L1622.8 1522.5L1624.5 1522.4L1626.2 1523.1L1628 1524L1629.8 1523.8L1631.5 1524.2L1633.2 1523.7L1635 1523.6L1636.8 1524.3L1638.5 1523.4L1640.2 1522.8L1642 1523.7L1643.8 1522.5L1645.5 1523.6L1647.2 1526.1L1649 1524.9L1650.8 1524.4L1652.5 1524.2L1654.2 1523.3L1656 1524.5L1657.8 1524.5L1659.5 1525.3L1661.2 1525.5L1663 1525.6L1664.8 1524.1L1666.5 1527.2L1668.2 1526.5L1670 1526.2L1671.8 1526.1L1673.5 1526.9L1675.2 1527.8L1677 1527.4L1678.8 1526L1680.5 1526.1L1682.2 1525.2L1684 1527.6L1685.8 1528.3L1687.5 1528.9L1689.2 1528.1L1691 1528.9L1692.8 1527.5L1694.5 1529L1696.2 1528.5L1698 1528.2L1699.8 1527.5L1701.5 1530.2L1703.2 1527.3L1705 1530.1L1706.8 1529L1708.5 1530.4L1710.2 1529.6L1712 1530.9L1713.8 1530.2L1715.5 1529.6L1717.2 1530.3L1719 1529.5L1720.8 1531.3L1722.5 1532.2L1724.2 1531.8L1726 1531.7L1727.8 1532.9L1729.5 1530.9L1731.2 1532.6L1733 1532.3L1734.8 1532L1736.5 1533.1L1738.2 1531.7L1740 1532.8L1741.8 1533.4L1743.5 1532.2L1745.2 1533.2L1747 1534L1748.8 1534.5L1750.5 1533L1752.2 1534.8L1754 1533.9L1755.8 1534.3L1757.5 1533.9L1759.2 1535.2L1761 1534L1762.8 1535.1L1764.5 1535.3L1766.2 1535.8L1768 1534.3L1769.8 1536L1771.5 1535.5L1773.2 1536.9L1775 1535.4L1776.8 1535.3L1778.5 1535.9L1780.2 1535.8L1782 1536L1783.8 1535.1L1785.5 1534.5L1787.2 1535.1L1789 1536L1790.8 1537.1L1792.5 1536.5L1794.2 1536L1796 1536.8L1797.8 1537.1L1799.5 1539.6L1801.2 1538.4L1803 1537.5L1804.8 1536.1L1806.5 1537.3L1808.2 1537.3L1810 1538.2L1811.8 1539.7L1813.5 1537.8L1815.2 1536.2L1817 1537.9L1818.8 1536.6L1820.5 1539L1822.2 1539.3L1824 1538.7L1825.8 1537.1L1827.5 1538.4L1829.2 1539.7L1831 1537.8L1832.8 1538.3L1834.5 1539.1L1836.2 1539.4L1838 1539.2L1839.8 1539.5L1841.5 1539.5L1843.2 1538.8L1845 1539.4L1846.8 1539.8L1848.5 1538.7L1850.2 1539.9L1852 1539.9L1853.8 1540.3L1855.5 1540.3L1857.2 1539.2L1859 1539.1L1860.8 1540.5L1862.5 1540.3L1864.2 1540.6L1866 1540.1L1867.8 1539.5L1869.5 1541L1871.2 1540.7L1873 1541.5L1874.8 1542L1876.5 1542.1L1878.2 1542.1L1880 1540.4L1881.8 1539.5L1883.5 1540.9L1885.2 1540.5L1887 1540.4L1888.8 1542.3L1890.5 1540.3L1892.2 1542.7L1894 1542.9L1895.8 1544.3L1897.5 1542.9L1899.2 1543.9L1901 1541.5L1902.8 1541.5L1904.5 1543.1L1906.2 1541L1908 1543.3L1909.8 1542L1911.5 1540.5L1913.2 1544L1915 1541.3L1916.8 1544.6L1918.5 1541L1920.2 1541.6L1922 1542.5L1923.8 1542.3L1925.5 1540.9L1927.2 1542.4L1929 1542.5L1930.8 1542.7L1932.5 1540.8L1934.2 1541.7L1936 1542.1L1937.8 1543L1939.5 1542.4L1941.2 1541.9L1943 1541.8L1944.8 1543.5L1946.5 1541.4L1948.2 1542.4L1950 1540.1L1951.8 1543.6L1953.5 1542.4L1955.2 1540.4L1957 1542.5L1958.8 1543.2L1960.5 1542.6L1962.2 1541.9L1964 1542.6L1965.8 1541.1L1967.5 1541.5L1969.2 1541.3L1971 1541.7L1972.8 1540.6L1974.5 1542.7L1976.2 1541.3L1978 1540.4L1979.8 1541.1L1981.5 1541.6L1983.2 1541.3L1985 1542.2L1986.8 1540.8L1988.5 1540.4L1990.2 1541.5L1992 1542.1L1993.8 1540.1L1995.5 1539.5L1997.2 1540.3L1999 1540.8L2000.8 1539.9L2002.5 1541L2004.2 1540.1L2006 1541.7L2007.8 1539.8L2009.5 1540.1L2011.2 1541L2013 1541.6L2014.8 1541.8L2016.5 1540.5L2018.2 1541.2L2020 1541.7L2021.8 1542.6L2023.5 1540.6L2025.2 1540.4L2027 1542L2028.8 1541.5L2030.5 1543L2032.2 1541.9L2034 1542.3L2034.5 1541.3"/>
<path stroke="#ff0000" stroke-width="10" d="M259.5 1981.5L261.5 1981.4L263.5 1981.2L265.5 1981.1L267.5 1981L269.5 1980.8L271.5 1980.7L273.5 1980.5L275.5 1980.4L277.5 1980.3L279.5 1980.1L281.5 1980L283.5 1979.8L285.5 1979.7L287.5 1979.5L289.5 1979.3L291.5 1979.2L293.5 1979L295.5 1978.8L297.5 1978.7L299.5 1978.5L301.5 1978.3L303.5 1978.1L305.5 1977.9L307.5 1977.7L309.5 1977.5L311.5 1977.3L313.5 1977.1L315.5 1976.9L317.5 1976.7L319.5 1976.5L321.5 1976.3L323.5 1976.1L325.5 1975.9L327.5 1975.7L329.5 1975.4L331.5 1975.2L333.5 1975L335.5 1974.8L337.5 1974.5L339.5 1974.3L341.5 1974.1L343.5 1973.9L345.5 1973.6L347.5 1973.4L349.5 1973.2L351.5 1973L353.5 1972.8L355.5 1972.5L357.5 1972.3L359.5 1972.1L361.5 1971.9L363.5 1971.7L365.5 1971.4L367.5 1971.2L369.5 1971L371.5 1970.8L373.5 1970.6L375.5 1970.4L377.5 1970.2L379.5 1970L381.5 1969.7L383.5 1969.5L385.5 1969.3L387.5 1969.1L389.5 1968.9L391.5 1968.7L393.5 1968.5L395.5 1968.3L397.5 1968.1L399.5 1967.9L401.5 1967.7L403.5 1967.5L405.5 1967.3L407.5 1967.1L409.5 1966.9L411.5 1966.6L413.5 1966.4L415.5 1966.2L417.5 1966L419.5 1965.8L421.5 1965.5L423.5 1965.3L425.5 1965.1L427.5 1964.9L429.5 1964.6L431.5 1964.4L433.5 1964.2L435.5 1963.9L437.5 1963.7L439.5 1963.5L441.5 1963.2L443.5 1963L445.5 1962.7L447.5 1962.5L449.5 1962.2L451.5 1962L453.5 1961.7L455.5 1961.5L457.5 1961.2L459.5 1961L461.5 1960.7L463.5 1960.4L465.5 1960.2L467.5 1959.9L469.5 1959.7L471.5 1959.4L473.5 1959.2L475.5 1958.9L477.5 1958.6L479.5 1958.4L481.5 1958.1L483.5 1957.9L485.5 1957.6L487.5 1957.3L489.5 1957.1L491.5 1956.8L493.5 1956.6L495.5 1956.3L497.5 1956L499.5 1955.8L501.5 1955.5L503.5 1955.2L505.5 1955L507.5 1954.7L509.5 1954.5L511.5 1954.2L513.5 1953.9L515.5 1953.7L517.5 1953.4L519.5 1953.1L521.5 1952.8L523.5 1952.6L525.5 1952.3L527.5 1952L529.5 1951.7L531.5 1951.4L533.5 1951.2L535.5 1950.9L537.5 1950.6L539.5 1950.3L541.5 1950L543.5 1949.7L545.5 1949.4L547.5 1949.1L549.5 1948.7L551.5 1948.4L553.5 1948.1L555.5 1947.8L557.5 1947.5L559.5 1947.1L561.5 1946.8L563.5 1946.4L565.5 1946.1L567.5 1945.8L569.5 1945.4L571.5 1945.1L573.5 1944.7L575.5 1944.3L577.5 1944L579.5 1943.6L581.5 1943.3L583.5 1942.9L585.5 1942.5L587.5 1942.2L589.5 1941.8L591.5 1941.4L593.5 1941.1L595.5 1940.7L597.5 1940.3L599.5 1939.9L601.5 1939.6L603.5 1939.2L605.5 1938.8L607.5 1938.4L609.5 1938L611.5 1937.6L613.5 1937.2L615.5 1936.8L617.5 1936.4L619.5 1936L621.5 1935.6L623.5 1935.1L625.5 1934.7L627.5 1934.3L629.5 1933.8L631.5 1933.3L633.5 1932.8L635.5 1932.3L637.5 1931.8L639.5 1931.3L641.5 1930.8L643.5 1930.2L645.5 1929.7L647.5 1929.1L649.5 1928.6L651.5 1928L653.5 1927.4L655.5 1926.8L657.5 1926.1L659.5 1925.5L661.5 1924.9L663.5 1924.2L665.5 1923.6L667.5 1922.9L669.5 1922.2L671.5 1921.5L673.5 1920.8L675.5 1920L677.5 1919.3L679.5 1918.5L681.5 1917.7L683.5 1916.9L685.5 1916.1L687.5 1915.2L689.5 1914.3L691.5 1913.5L693.5 1912.5L695.5 1911.6L697.5 1910.7L699.5 1909.7L701.5 1908.7L703.5 1907.7L705.5 1906.8L707.5 1905.9L709.5 1905L711.5 1904.1L713.5 1903.1L715.5 1902.1L717.5 1900.9L719.5 1899.5L721.5 1898L723.5 1896.4L725.5 1895L727.5 1893.6L729.5 1892.3L731.5 1891L733.5 1889.8L735.5 1888.7L737.5 1887.9L739.5 1887.3L741.5 1887L743.5 1887.1L745.5 1887.4L747.5 1888.1L749.5 1889.1L751.5 1890.4L753.5 1891.9L755.5 1893.7L757.5 1895.5L759.5 1897L761.5 1898.3L763.5 1899.4L765.5 1900.3L767.5 1901L769.5 1901.4L771.5 1901.4L773.5 1901.1L775.5 1900.4L777.5 1899.5L779.5 1898.3L781.5 1897.1L783.5 1895.7L785.5 1894.1L787.5 1892.4L789.5 1890.5L791.5 1888.6L793.5 1886.6L795.5 1884.5L797.5 1882.5L799.5 1880.5L801.5 1878.5L803.5 1876.5L805.5 1874.5L807.5 1872.5L809.5 1870.4L811.5 1868.3L813.5 1866.1L815.5 1864.2L817.5 1862.5L819.5 1861.2L821.5 1860.2L823.5 1859.7L825.5 1859.6L827.5 1859.7L829.5 1860.2L831.5 1860.9L833.5 1861.9L835.5 1863.2L837.5 1864.6L839.5 1866L841.5 1867.2L843.5 1868.2L845.5 1868.8L847.5 1869L849.5 1868.8L851.5 1868.3L853.5 1867.4L855.5 1866.2L857.5 1864.8L859.5 1863.1L861.5 1861.3L863.5 1859.4L865.5 1857.4L867.5 1855.4L869.5 1853.4L871.5 1851.4L873.5 1849.4L875.5 1847.4L877.5 1845.4L879.5 1843.4L881.5 1841.4L883.5 1839.4L885.5 1837.5L887.5 1835.8L889.5 1834.1L891.5 1832.6L893.5 1831.3L895.5 1830.1L897.5 1829.2L899.5 1828.6L901.5 1828.1L903.5 1827.9L905.5 1828.1L907.5 1828.6L909.5 1829.6L911.5 1831.2L913.5 1833.4L915.5 1836.1L917.5 1839.3L919.5 1842.6L921.5 1846.1L923.5 1849.7L925.5 1853.2L927.5 1856.6L929.5 1859.9L931.5 1863.1L933.5 1866.3L935.5 1869.5L937.5 1872.7L939.5 1875.9L941.5 1879.2L943.5 1882.8L945.5 1886.7L947.5 1891.1L949.5 1896L951.5 1901.2L953.5 1906.8L955.5 1912.9L957.5 1919.6L959.5 1926.8L961.5 1934.8L963.5 1943.5L965.5 1952.9L967.5 1962.9L969.5 1973.3L971.5 1983.8L973.5 1994.5L975.5 2005.4L977.5 2016.6L979.5 2027.9L981.5 2039.1L983.5 2050L985.5 2060.7L987.5 2071L989.5 2081.2L991.5 2091.3L993.5 2101.4L995.5 2111.7L997.5 2122.1L999.5 2132.4L1001.5 2142.2L1003.5 2151.4L1005.5 2159.8L1007.5 2167.7L1009.5 2174.9L1011.5 2181.6L1013.5 2187.6L1015.5 2192.9L1017.5 2197.6L1019.5 2201.8L1021.5 2205.5L1023.5 2208.7L1025.5 2211.5L1027.5 2213.9L1029.5 2216L1031.5 2217.7L1033.5 2219.1L1035.5 2220.4L1037.5 2221.4L1039.5 2222.2L1041.5 2222.8L1043.5 2223.2L1045.5 2223.6L1047.5 2223.8L1049.5 2223.9L1051.5 2223.8L1053.5 2223.7L1055.5 2223.4L1057.5 2223L1059.5 2222.6L1061.5 2222.3L1063.5 2221.9L1065.5 2221.6L1067.5 2221.3L1069.5 2221L1071.5 2220.8L1073.5 2220.6L1075.5 2220.6L1077.5 2221L1079.5 2222L1081.5 2223.3L1083.5 2225.1L1085.5 2227.3L1087.5 2229.6L1089.5 2231.8L1091.5 2233.9L1093.5 2235.8L1095.5 2237.6L1097.5 2239.2L1099.5 2240.6L1101.5 2241.7L1103.5 2242.6L1105.5 2243L1107.5 2243.1L1109.5 2242.7L1111.5 2242.1L1113.5 2241.1L1115.5 2239.8L1117.5 2238.4L1119.5 2236.8L1121.5 2235.1L1123.5 2233.4L1125.5 2231.6L1127.5 2229.8L1129.5 2228L1131.5 2226.2L1133.5 2224.4L1135.5 2222.5L1137.5 2220.7L1139.5 2218.9L1141.5 2217L1143.5 2215.2L1145.5 2213.3L1147.5 2211.5L1149.5 2209.7L1151.5 2207.9L1153.5 2206.3L1155.5 2204.7L1157.5 2203.4L1159.5 2202.2L1161.5 2201.3L1163.5 2200.7L1165.5 2200.3L1167.5 2200.1L1169.5 2200.3L1171.5 2200.7L1173.5 2201.6L1175.5 2202.8L1177.5 2204.6L1179.5 2206.6L1181.5 2208.6L1183.5 2210.2L1185.5 2211.5L1187.5 2212.5L1189.5 2213.3L1191.5 2213.8L1193.5 2214L1195.5 2213.8L1197.5 2213.2L1199.5 2212.4L1201.5 2211.4L1203.5 2210.2L1205.5 2208.9L1207.5 2207.5L1209.5 2206.1L1211.5 2204.7L1213.5 2203.2L1215.5 2201.7L1217.5 2200.2L1219.5 2198.6L1221.5 2197.1L1223.5 2195.7L1225.5 2194.3L1227.5 2192.9L1229.5 2191.6L1231.5 2190.3L1233.5 2189.1L1235.5 2187.9L1237.5 2186.7L1239.5 2185.5L1241.5 2184.4L1243.5 2183.3L1245.5 2182.3L1247.5 2181.2L1249.5 2180.1L1251.5 2179.1L1253.5 2178.1L1255.5 2177.2L1257.5 2176.2L1259.5 2175.3L1261.5 2174.4L1263.5 2173.6L1265.5 2172.7L1267.5 2171.9L1269.5 2171.1L1271.5 2170.3L1273.5 2169.5L1275.5 2168.7L1277.5 2167.9L1279.5 2167.2L1281.5 2166.4L1283.5 2165.6L1285.5 2164.9L1287.5 2164.1L1289.5 2163.3L1291.5 2162.6L1293.5 2161.8L1295.5 2161L1297.5 2160.3L1299.5 2159.5L1301.5 2158.8L1303.5 2158L1305.5 2157.3L1307.5 2156.6L1309.5 2155.8L1311.5 2155.1L1313.5 2154.4L1315.5 2153.7L1317.5 2153L1319.5 2152.3L1321.5 2151.5L1323.5 2150.8L1325.5 2150.1L1327.5 2149.4L1329.5 2148.7L1331.5 2148L1333.5 2147.4L1335.5 2146.7L1337.5 2146L1339.5 2145.3L1341.5 2144.6L1343.5 2143.9L1345.5 2143.2L1347.5 2142.6L1349.5 2141.9L1351.5 2141.2L1353.5 2140.6L1355.5 2139.9L1357.5 2139.3L1359.5 2138.6L1361.5 2138L1363.5 2137.4L1365.5 2136.7L1367.5 2136.1L1369.5 2135.5L1371.5 2134.8L1373.5 2134.2L1375.5 2133.6L1377.5 2133L1379.5 2132.4L1381.5 2131.8L1383.5 2131.2L1385.5 2130.6L1387.5 2130L1389.5 2129.4L1391.5 2128.8L1393.5 2128.2L1395.5 2127.6L1397.5 2127.1L1399.5 2126.5L1401.5 2125.9L1403.5 2125.4L1405.5 2124.8L1407.5 2124.3L1409.5 2123.8L1411.5 2123.2L1413.5 2122.7L1415.5 2122.2L1417.5 2121.7L1419.5 2121.1L1421.5 2120.6L1423.5 2120.1L1425.5 2119.6L1427.5 2119.1L1429.5 2118.6L1431.5 2118.1L1433.5 2117.6L1435.5 2117L1437.5 2116.5L1439.5 2116L1441.5 2115.5L1443.5 2115L1445.5 2114.5L1447.5 2114L1449.5 2113.5L1451.5 2113L1453.5 2112.5L1455.5 2112L1457.5 2111.4L1459.5 2110.9L1461.5 2110.4L1463.5 2109.9L1465.5 2109.4L1467.5 2108.9L1469.5 2108.4L1471.5 2107.9L1473.5 2107.4L1475.5 2106.9L1477.5 2106.4L1479.5 2105.9L1481.5 2105.5L1483.5 2105L1485.5 2104.5L1487.5 2104L1489.5 2103.5L1491.5 2103.1L1493.5 2102.6L1495.5 2102.2L1497.5 2101.7L1499.5 2101.3L1501.5 2100.8L1503.5 2100.4L1505.5 2100L1507.5 2099.6L1509.5 2099.1L1511.5 2098.7L1513.5 2098.3L1515.5 2097.9L1517.5 2097.5L1519.5 2097.1L1521.5 2096.7L1523.5 2096.3L1525.5 2096L1527.5 2095.6L1529.5 2095.2L1531.5 2094.8L1533.5 2094.4L1535.5 2094L1537.5 2093.7L1539.5 2093.3L1541.5 2092.9L1543.5 2092.5L1545.5 2092.2L1547.5 2091.8L1549.5 2091.4L1551.5 2091.1L1553.5 2090.7L1555.5 2090.3L1557.5 2089.9L1559.5 2089.6L1561.5 2089.2L1563.5 2088.8L1565.5 2088.5L1567.5 2088.1L1569.5 2087.7L1571.5 2087.4L1573.5 2087L1575.5 2086.7L1577.5 2086.3L1579.5 2085.9L1581.5 2085.6L1583.5 2085.2L1585.5 2084.9L1587.5 2084.5L1589.5 2084.2L1591.5 2083.8L1593.5 2083.5L1595.5 2083.2L1597.5 2082.8L1599.5 2082.5L1601.5 2082.2L1603.5 2081.8L1605.5 2081.5L1607.5 2081.2L1609.5 2080.8L1611.5 2080.5L1613.5 2080.2L1615.5 2079.9L1617.5 2079.6L1619.5 2079.2L1621.5 2078.9L1623.5 2078.6L1625.5 2078.3L1627.5 2078L1629.5 2077.7L1631.5 2077.4L1633.5 2077L1635.5 2076.7L1637.5 2076.4L1639.5 2076.1L1641.5 2075.8L1643.5 2075.5L1645.5 2075.2L1647.5 2074.9L1649.5 2074.6L1651.5 2074.3L1653.5 2074L1655.5 2073.7L1657.5 2073.4L1659.5 2073.1L1661.5 2072.8L1663.5 2072.5L1665.5 2072.2L1667.5 2071.9L1669.5 2071.6L1671.5 2071.3L1673.5 2071L1675.5 2070.7L1677.5 2070.4L1679.5 2070.1L1681.5 2069.8L1683.5 2069.6L1685.5 2069.3L1687.5 2069L1689.5 2068.7L1691.5 2068.4L1693.5 2068.2L1695.5 2067.9L1697.5 2067.6L1699.5 2067.4L1701.5 2067.1L1703.5 2066.8L1705.5 2066.6L1707.5 2066.3L1709.5 2066L1711.5 2065.8L1713.5 2065.5L1715.5 2065.3L1717.5 2065L1719.5 2064.7L1721.5 2064.5L1723.5 2064.2L1725.5 2064L1727.5 2063.7L1729.5 2063.5L1731.5 2063.2L1733.5 2063L1735.5 2062.7L1737.5 2062.5L1739.5 2062.2L1741.5 2062L1743.5 2061.7L1745.5 2061.5L1747.5 2061.2L1749.5 2061L1751.5 2060.7L1753.5 2060.5L1755.5 2060.2L1757.5 2060L1759.5 2059.8L1761.5 2059.5L1763.5 2059.3L1765.5 2059L1767.5 2058.8L1769.5 2058.6L1771.5 2058.3L1773.5 2058.1L1775.5 2057.9L1777.5 2057.6L1779.5 2057.4L1781.5 2057.2L1783.5 2056.9L1785.5 2056.7L1787.5 2056.5L1789.5 2056.3L1791.5 2056.1L1793.5 2055.8L1795.5 2055.6L1797.5 2055.4L1799.5 2055.2L1801.5 2055L1803.5 2054.8L1805.5 2054.5L1807.5 2054.3L1809.5 2054.1L1811.5 2053.9L1813.5 2053.7L1815.5 2053.5L1817.5 2053.3L1819.5 2053.1L1821.5 2052.9L1823.5 2052.7L1825.5 2052.5L1827.5 2052.3L1829.5 2052.1L1831.5 2051.9L1833.5 2051.7L1835.5 2051.5L1837.5 2051.4L1839.5 2051.2L1841.5 2051L1843.5 2050.8L1845.5 2050.6L1847.5 2050.4L1849.5 2050.2L1851.5 2050.1L1853.5 2049.9L1855.5 2049.7L1857.5 2049.5L1859.5 2049.3L1861.5 2049.2L1863.5 2049L1865.5 2048.8L1867.5 2048.6L1869.5 2048.4L1871.5 2048.3L1873.5 2048.1L1875.5 2047.9L1877.5 2047.7L1879.5 2047.5L1881.5 2047.4L1883.5 2047.2L1885.5 2047L1887.5 2046.8L1889.5 2046.6L1891.5 2046.5L1893.5 2046.3L1895.5 2046.1L1897.5 2045.9L1899.5 2045.8L1901.5 2045.6L1903.5 2045.4L1905.5 2045.2L1907.5 2045L1909.5 2044.9L1911.5 2044.7L1913.5 2044.5L1915.5 2044.3L1917.5 2044.1L1919.5 2043.9L1921.5 2043.8L1923.5 2043.6L1925.5 2043.4L1927.5 2043.2L1929.5 2043.1L1931.5 2042.9L1933.5 2042.7L1935.5 2042.5L1937.5 2042.3L1939.5 2042.2L1941.5 2042L1943.5 2041.8L1945.5 2041.7L1947.5 2041.5L1949.5 2041.3L1951.5 2041.1L1953.5 2041L1955.5 2040.8L1957.5 2040.7L1959.5 2040.5L1961.5 2040.3L1963.5 2040.2L1965.5 2040L1967.5 2039.9L1969.5 2039.7L1971.5 2039.6L1973.5 2039.4L1975.5 2039.3L1977.5 2039.1L1979.5 2039L1981.5 2038.9L1983.5 2038.7L1985.5 2038.6L1987.5 2038.5L1989.5 2038.3L1991.5 2038.2L1993.5 2038.1L1995.5 2037.9L1997.5 2037.8L1999.5 2037.7L2001.5 2037.6L2003.5 2037.4L2005.5 2037.3L2007.5 2037.2L2009.5 2037.1L2011.5 2037L2013.5 2036.8L2015.5 2036.7L2017.5 2036.6L2019.5 2036.5L2021.5 2036.4L2023.5 2036.3L2025.5 2036.2L2027.5 2036.1L2029.5 2036L2031.5 2035.9L2033.5 2035.7L2034.5 2035.7"/>
<path stroke="#000000" stroke-width="10" d="M259.5 2435.6L261.5 2435.5L263.5 2435.4L265.5 2435.2L267.5 2435.1L269.5 2435L271.5 2434.9L273.5 2434.8L275.5 2434.7L277.5 2434.5L279.5 2434.4L281.5 2434.3L283.5 2434.2L285.5 2434.1L287.5 2434L289.5 2433.9L291.5 2433.8L293.5 2433.7L295.5 2433.6L297.5 2433.5L299.5 2433.4L301.5 2433.3L303.5 2433.2L305.5 2433.1L307.5 2433L309.5 2432.9L311.5 2432.8L313.5 2432.7L315.5 2432.6L317.5 2432.5L319.5 2432.5L321.5 2432.4L323.5 2432.3L325.5 2432.2L327.5 2432.1L329.5 2432L331.5 2432L333.5 2431.9L335.5 2431.8L337.5 2431.7L339.5 2431.6L341.5 2431.6L343.5 2431.5L345.5 2431.4L347.5 2431.3L349.5 2431.3L351.5 2431.2L353.5 2431.1L355.5 2431L357.5 2431L359.5 2430.9L361.5 2430.8L363.5 2430.7L365.5 2430.7L367.5 2430.6L369.5 2430.5L371.5 2430.5L373.5 2430.4L375.5 2430.3L377.5 2430.2L379.5 2430.2L381.5 2430.1L383.5 2430L385.5 2430L387.5 2429.9L389.5 2429.8L391.5 2429.8L393.5 2429.7L395.5 2429.6L397.5 2429.6L399.5 2429.5L401.5 2429.4L403.5 2429.4L405.5 2429.3L407.5 2429.2L409.5 2429.1L411.5 2429.1L413.5 2429L415.5 2428.9L417.5 2428.9L419.5 2428.8L421.5 2428.8L423.5 2428.7L425.5 2428.6L427.5 2428.6L429.5 2428.5L431.5 2428.4L433.5 2428.4L435.5 2428.3L437.5 2428.2L439.5 2428.2L441.5 2428.1L443.5 2428L445.5 2428L447.5 2427.9L449.5 2427.8L451.5 2427.8L453.5 2427.7L455.5 2427.7L457.5 2427.6L459.5 2427.5L461.5 2427.5L463.5 2427.4L465.5 2427.4L467.5 2427.3L469.5 2427.2L471.5 2427.2L473.5 2427.1L475.5 2427.1L477.5 2427L479.5 2427L481.5 2426.9L483.5 2426.9L485.5 2426.8L487.5 2426.8L489.5 2426.7L491.5 2426.7L493.5 2426.6L495.5 2426.6L497.5 2426.5L499.5 2426.5L501.5 2426.4L503.5 2426.4L505.5 2426.4L507.5 2426.3L509.5 2426.3L511.5 2426.2L513.5 2426.2L515.5 2426.2L517.5 2426.1L519.5 2426.1L521.5 2426L523.5 2426L525.5 2426L527.5 2425.9L529.5 2425.9L531.5 2425.8L533.5 2425.8L535.5 2425.8L537.5 2425.7L539.5 2425.7L541.5 2425.6L543.5 2425.6L545.5 2425.5L547.5 2425.5L549.5 2425.4L551.5 2425.4L553.5 2425.4L555.5 2425.3L557.5 2425.3L559.5 2425.2L561.5 2425.2L563.5 2425.1L565.5 2425.1L567.5 2425L569.5 2425L571.5 2424.9L573.5 2424.9L575.5 2424.8L577.5 2424.8L579.5 2424.7L581.5 2424.7L583.5 2424.6L585.5 2424.5L587.5 2424.5L589.5 2424.4L591.5 2424.4L593.5 2424.3L595.5 2424.3L597.5 2424.2L599.5 2424.2L601.5 2424.1L603.5 2424L605.5 2424L607.5 2423.9L609.5 2423.9L611.5 2423.8L613.5 2423.8L615.5 2423.7L617.5 2423.6L619.5 2423.6L621.5 2423.5L623.5 2423.4L625.5 2423.4L627.5 2423.3L629.5 2423.2L631.5 2423.2L633.5 2423.1L635.5 2423L637.5 2422.9L639.5 2422.8L641.5 2422.8L643.5 2422.7L645.5 2422.6L647.5 2422.5L649.5 2422.4L651.5 2422.3L653.5 2422.2L655.5 2422.1L657.5 2421.9L659.5 2421.8L661.5 2421.7L663.5 2421.6L665.5 2421.4L667.5 2421.3L669.5 2421.2L671.5 2421L673.5 2420.9L675.5 2420.7L677.5 2420.5L679.5 2420.4L681.5 2420.2L683.5 2420L685.5 2419.8L687.5 2419.6L689.5 2419.4L691.5 2419.2L693.5 2419L695.5 2418.8L697.5 2418.6L699.5 2418.3L701.5 2418.1L703.5 2417.9L705.5 2417.7L707.5 2417.4L709.5 2417.1L711.5 2416.7L713.5 2416.3L715.5 2415.8L717.5 2415.3L719.5 2414.8L721.5 2414.2L723.5 2413.7L725.5 2413.1L727.5 2412.6L729.5 2412L731.5 2411.5L733.5 2411.1L735.5 2410.9L737.5 2410.8L739.5 2410.8L741.5 2410.9L743.5 2411.2L745.5 2411.6L747.5 2412.2L749.5 2413.1L751.5 2414.3L753.5 2415.7L755.5 2417.1L757.5 2418.5L759.5 2419.8L761.5 2421L763.5 2422.1L765.5 2423L767.5 2423.8L769.5 2424.3L771.5 2424.6L773.5 2424.7L775.5 2424.6L777.5 2424.4L779.5 2424.1L781.5 2423.5L783.5 2422.8L785.5 2421.9L787.5 2421L789.5 2419.9L791.5 2418.8L793.5 2417.7L795.5 2416.6L797.5 2415.5L799.5 2414.5L801.5 2413.4L803.5 2412.3L805.5 2411.2L807.5 2410.2L809.5 2409.1L811.5 2408L813.5 2407L815.5 2406.1L817.5 2405.4L819.5 2405L821.5 2404.8L823.5 2404.7L825.5 2404.9L827.5 2405.2L829.5 2405.7L831.5 2406.3L833.5 2407L835.5 2408L837.5 2409.1L839.5 2410.1L841.5 2410.9L843.5 2411.4L845.5 2411.6L847.5 2411.8L849.5 2411.7L851.5 2411.5L853.5 2411.1L855.5 2410.5L857.5 2409.7L859.5 2408.7L861.5 2407.4L863.5 2405.8L865.5 2404.2L867.5 2402.4L869.5 2400.7L871.5 2398.9L873.5 2397.2L875.5 2395.4L877.5 2393.5L879.5 2391.7L881.5 2389.7L883.5 2387.7L885.5 2385.7L887.5 2383.7L889.5 2381.7L891.5 2379.7L893.5 2377.8L895.5 2376L897.5 2374.2L899.5 2372.6L901.5 2371.2L903.5 2370L905.5 2369L907.5 2368.2L909.5 2367.6L911.5 2367.1L913.5 2366.9L915.5 2366.7L917.5 2366.6L919.5 2366.4L921.5 2366.1L923.5 2365.6L925.5 2365L927.5 2364.3L929.5 2363.4L931.5 2362.5L933.5 2361.4L935.5 2360.1L937.5 2358.7L939.5 2357.3L941.5 2356.1L943.5 2355.2L945.5 2354.5L947.5 2354L949.5 2353.8L951.5 2354.1L953.5 2354.9L955.5 2356.3L957.5 2358.4L959.5 2361.8L961.5 2366.7L963.5 2373.1L965.5 2381.1L967.5 2391.1L969.5 2402.9L971.5 2416.6L973.5 2432.4L975.5 2451.1L977.5 2472L979.5 2493.6L981.5 2515.1L983.5 2536.4L985.5 2557.8L987.5 2578.1L989.5 2596.5L991.5 2613.9L993.5 2630.8L995.5 2646.9L997.5 2662.3L999.5 2676.9L1001.5 2690.6L1003.5 2703.3L1005.5 2714.6L1007.5 2724.4L1009.5 2732.7L1011.5 2739.7L1013.5 2745.8L1015.5 2750.9L1017.5 2755.2L1019.5 2758.7L1021.5 2761.7L1023.5 2764.3L1025.5 2766.2L1027.5 2767.5L1029.5 2768.6L1031.5 2769.4L1033.5 2769.8L1035.5 2769.9L1037.5 2769.7L1039.5 2769.3L1041.5 2768.8L1043.5 2768.1L1045.5 2767.4L1047.5 2766.5L1049.5 2765.5L1051.5 2764.5L1053.5 2763.4L1055.5 2762.2L1057.5 2761.1L1059.5 2759.8L1061.5 2758.5L1063.5 2757.1L1065.5 2755.7L1067.5 2754.3L1069.5 2753.1L1071.5 2752.1L1073.5 2751.2L1075.5 2750.4L1077.5 2749.9L1079.5 2749.6L1081.5 2749.7L1083.5 2750.1L1085.5 2750.6L1087.5 2751.3L1089.5 2751.9L1091.5 2752.4L1093.5 2752.9L1095.5 2753.4L1097.5 2753.8L1099.5 2754L1101.5 2754.1L1103.5 2753.8L1105.5 2753.3L1107.5 2752.5L1109.5 2751.5L1111.5 2750.2L1113.5 2748.8L1115.5 2747.2L1117.5 2745.6L1119.5 2743.8L1121.5 2742L1123.5 2740.2L1125.5 2738.4L1127.5 2736.6L1129.5 2734.7L1131.5 2732.9L1133.5 2731L1135.5 2729.2L1137.5 2727.4L1139.5 2725.5L1141.5 2723.7L1143.5 2721.9L1145.5 2720.1L1147.5 2718.3L1149.5 2716.5L1151.5 2714.8L1153.5 2713.2L1155.5 2711.7L1157.5 2710.3L1159.5 2709.1L1161.5 2708.2L1163.5 2707.4L1165.5 2706.9L1167.5 2706.7L1169.5 2706.6L1171.5 2706.8L1173.5 2707.3L1175.5 2707.9L1177.5 2708.6L1179.5 2709.2L1181.5 2709.8L1183.5 2710.3L1185.5 2710.7L1187.5 2711.1L1189.5 2711.3L1191.5 2711.4L1193.5 2711.2L1195.5 2710.9L1197.5 2710.4L1199.5 2709.7L1201.5 2708.8L1203.5 2707.8L1205.5 2706.7L1207.5 2705.5L1209.5 2704.2L1211.5 2702.9L1213.5 2701.6L1215.5 2700.4L1217.5 2699.2L1219.5 2698.1L1221.5 2696.9L1223.5 2695.8L1225.5 2694.6L1227.5 2693.5L1229.5 2692.4L1231.5 2691.3L1233.5 2690.2L1235.5 2689.1L1237.5 2688L1239.5 2687L1241.5 2686L1243.5 2685L1245.5 2684L1247.5 2683L1249.5 2682L1251.5 2681L1253.5 2680L1255.5 2679.1L1257.5 2678.1L1259.5 2677.2L1261.5 2676.3L1263.5 2675.4L1265.5 2674.5L1267.5 2673.6L1269.5 2672.8L1271.5 2671.9L1273.5 2671.1L1275.5 2670.2L1277.5 2669.4L1279.5 2668.6L1281.5 2667.8L1283.5 2667.1L1285.5 2666.3L1287.5 2665.5L1289.5 2664.8L1291.5 2664L1293.5 2663.3L1295.5 2662.6L1297.5 2661.9L1299.5 2661.2L1301.5 2660.5L1303.5 2659.8L1305.5 2659.1L1307.5 2658.4L1309.5 2657.7L1311.5 2657L1313.5 2656.3L1315.5 2655.6L1317.5 2655L1319.5 2654.3L1321.5 2653.6L1323.5 2652.9L1325.5 2652.3L1327.5 2651.6L1329.5 2650.9L1331.5 2650.3L1333.5 2649.6L1335.5 2649L1337.5 2648.3L1339.5 2647.6L1341.5 2647L1343.5 2646.3L1345.5 2645.7L1347.5 2645L1349.5 2644.4L1351.5 2643.8L1353.5 2643.1L1355.5 2642.5L1357.5 2641.9L1359.5 2641.2L1361.5 2640.6L1363.5 2640L1365.5 2639.4L1367.5 2638.7L1369.5 2638.1L1371.5 2637.5L1373.5 2636.9L1375.5 2636.3L1377.5 2635.8L1379.5 2635.2L1381.5 2634.6L1383.5 2634L1385.5 2633.5L1387.5 2632.9L1389.5 2632.3L1391.5 2631.8L1393.5 2631.2L1395.5 2630.7L1397.5 2630.1L1399.5 2629.6L1401.5 2629.1L1403.5 2628.6L1405.5 2628.1L1407.5 2627.6L1409.5 2627.1L1411.5 2626.6L1413.5 2626.1L1415.5 2625.6L1417.5 2625.1L1419.5 2624.6L1421.5 2624.1L1423.5 2623.7L1425.5 2623.2L1427.5 2622.7L1429.5 2622.3L1431.5 2621.8L1433.5 2621.3L1435.5 2620.8L1437.5 2620.4L1439.5 2619.9L1441.5 2619.4L1443.5 2618.9L1445.5 2618.5L1447.5 2618L1449.5 2617.5L1451.5 2617L1453.5 2616.6L1455.5 2616.1L1457.5 2615.6L1459.5 2615.1L1461.5 2614.7L1463.5 2614.2L1465.5 2613.7L1467.5 2613.3L1469.5 2612.8L1471.5 2612.3L1473.5 2611.9L1475.5 2611.4L1477.5 2610.9L1479.5 2610.5L1481.5 2610L1483.5 2609.6L1485.5 2609.1L1487.5 2608.7L1489.5 2608.2L1491.5 2607.8L1493.5 2607.4L1495.5 2606.9L1497.5 2606.5L1499.5 2606.1L1501.5 2605.6L1503.5 2605.2L1505.5 2604.8L1507.5 2604.4L1509.5 2604L1511.5 2603.6L1513.5 2603.2L1515.5 2602.7L1517.5 2602.3L1519.5 2601.9L1521.5 2601.5L1523.5 2601.1L1525.5 2600.7L1527.5 2600.3L1529.5 2599.9L1531.5 2599.5L1533.5 2599.1L1535.5 2598.7L1537.5 2598.3L1539.5 2597.9L1541.5 2597.5L1543.5 2597.1L1545.5 2596.7L1547.5 2596.4L1549.5 2596L1551.5 2595.6L1553.5 2595.2L1555.5 2594.8L1557.5 2594.4L1559.5 2594L1561.5 2593.7L1563.5 2593.3L1565.5 2592.9L1567.5 2592.5L1569.5 2592.2L1571.5 2591.8L1573.5 2591.4L1575.5 2591.1L1577.5 2590.7L1579.5 2590.3L1581.5 2590L1583.5 2589.6L1585.5 2589.2L1587.5 2588.9L1589.5 2588.5L1591.5 2588.2L1593.5 2587.8L1595.5 2587.4L1597.5 2587.1L1599.5 2586.7L1601.5 2586.4L1603.5 2586L1605.5 2585.7L1607.5 2585.3L1609.5 2585L1611.5 2584.6L1613.5 2584.3L1615.5 2583.9L1617.5 2583.6L1619.5 2583.2L1621.5 2582.9L1623.5 2582.5L1625.5 2582.2L1627.5 2581.8L1629.5 2581.5L1631.5 2581.2L1633.5 2580.8L1635.5 2580.5L1637.5 2580.2L1639.5 2579.8L1641.5 2579.5L1643.5 2579.2L1645.5 2578.9L1647.5 2578.6L1649.5 2578.2L1651.5 2577.9L1653.5 2577.6L1655.5 2577.3L1657.5 2577L1659.5 2576.7L1661.5 2576.4L1663.5 2576.1L1665.5 2575.8L1667.5 2575.5L1669.5 2575.2L1671.5 2574.9L1673.5 2574.6L1675.5 2574.4L1677.5 2574.1L1679.5 2573.8L1681.5 2573.5L1683.5 2573.3L1685.5 2573L1687.5 2572.7L1689.5 2572.4L1691.5 2572.2L1693.5 2571.9L1695.5 2571.6L1697.5 2571.4L1699.5 2571.1L1701.5 2570.9L1703.5 2570.6L1705.5 2570.3L1707.5 2570.1L1709.5 2569.8L1711.5 2569.5L1713.5 2569.3L1715.5 2569L1717.5 2568.8L1719.5 2568.5L1721.5 2568.2L1723.5 2568L1725.5 2567.7L1727.5 2567.5L1729.5 2567.2L1731.5 2566.9L1733.5 2566.7L1735.5 2566.4L1737.5 2566.2L1739.5 2565.9L1741.5 2565.6L1743.5 2565.4L1745.5 2565.1L1747.5 2564.8L1749.5 2564.6L1751.5 2564.3L1753.5 2564.1L1755.5 2563.8L1757.5 2563.5L1759.5 2563.3L1761.5 2563L1763.5 2562.8L1765.5 2562.5L1767.5 2562.2L1769.5 2562L1771.5 2561.7L1773.5 2561.4L1775.5 2561.2L1777.5 2560.9L1779.5 2560.7L1781.5 2560.4L1783.5 2560.1L1785.5 2559.9L1787.5 2559.6L1789.5 2559.4L1791.5 2559.1L1793.5 2558.9L1795.5 2558.6L1797.5 2558.3L1799.5 2558.1L1801.5 2557.8L1803.5 2557.6L1805.5 2557.3L1807.5 2557.1L1809.5 2556.8L1811.5 2556.6L1813.5 2556.3L1815.5 2556.1L1817.5 2555.8L1819.5 2555.6L1821.5 2555.3L1823.5 2555.1L1825.5 2554.8L1827.5 2554.6L1829.5 2554.3L1831.5 2554.1L1833.5 2553.8L1835.5 2553.6L1837.5 2553.3L1839.5 2553.1L1841.5 2552.9L1843.5 2552.6L1845.5 2552.4L1847.5 2552.1L1849.5 2551.9L1851.5 2551.7L1853.5 2551.4L1855.5 2551.2L1857.5 2551L1859.5 2550.8L1861.5 2550.5L1863.5 2550.3L1865.5 2550.1L1867.5 2549.8L1869.5 2549.6L1871.5 2549.4L1873.5 2549.2L1875.5 2549L1877.5 2548.8L1879.5 2548.5L1881.5 2548.3L1883.5 2548.1L1885.5 2547.9L1887.5 2547.7L1889.5 2547.5L1891.5 2547.3L1893.5 2547.1L1895.5 2546.9L1897.5 2546.7L1899.5 2546.5L1901.5 2546.3L1903.5 2546.1L1905.5 2545.9L1907.5 2545.7L1909.5 2545.5L1911.5 2545.3L1913.5 2545.1L1915.5 2544.9L1917.5 2544.7L1919.5 2544.5L1921.5 2544.4L1923.5 2544.2L1925.5 2544L1927.5 2543.8L1929.5 2543.6L1931.5 2543.4L1933.5 2543.2L1935.5 2543.1L1937.5 2542.9L1939.5 2542.7L1941.5 2542.5L1943.5 2542.3L1945.5 2542.1L1947.5 2542L1949.5 2541.8L1951.5 2541.6L1953.5 2541.4L1955.5 2541.2L1957.5 2541.1L1959.5 2540.9L1961.5 2540.7L1963.5 2540.5L1965.5 2540.3L1967.5 2540.2L1969.5 2540L1971.5 2539.8L1973.5 2539.6L1975.5 2539.5L1977.5 2539.3L1979.5 2539.1L1981.5 2538.9L1983.5 2538.8L1985.5 2538.6L1987.5 2538.4L1989.5 2538.2L1991.5 2538.1L1993.5 2537.9L1995.5 2537.7L1997.5 2537.6L1999.5 2537.4L2001.5 2537.2L2003.5 2537.1L2005.5 2536.9L2007.5 2536.7L2009.5 2536.6L2011.5 2536.4L2013.5 2536.3L2015.5 2536.1L2017.5 2536L2019.5 2535.8L2021.5 2535.7L2023.5 2535.5L2025.5 2535.4L2027.5 2535.2L2029.5 2535.1L2031.5 2534.9L2033.5 2534.8L2034.5 2534.7"/>
</g>
<text class="tk" transform="translate(258.9 94.3) scale(0.985 1.02)">250</text>
<text class="tk" transform="translate(258.9 2954) scale(0.985 1.02)">250</text>
<text class="tk" transform="translate(702.65 94.3) scale(0.985 1.02)">300</text>
<text class="tk" transform="translate(702.65 2954) scale(0.985 1.02)">300</text>
<text class="tk" transform="translate(1146.4 94.3) scale(0.985 1.02)">350</text>
<text class="tk" transform="translate(1146.4 2954) scale(0.985 1.02)">350</text>
<text class="tk" transform="translate(1590.15 94.3) scale(0.985 1.02)">400</text>
<text class="tk" transform="translate(1590.15 2954) scale(0.985 1.02)">400</text>
<text class="tk" transform="translate(2033.9 94.3) scale(0.985 1.02)">450</text>
<text class="tk" transform="translate(2033.9 2954) scale(0.985 1.02)">450</text>
<text class="ax" transform="translate(1148 3101) scale(1 1.04)">Magnetic field (mT)</text>
<text class="ax" transform="translate(113 1493) rotate(-90) scale(1 1.04)">Intensity (a.u.)</text>
<g>
<rect x="1513" y="187" width="491" height="96" fill="#000" shape-rendering="crispEdges"/>
<rect x="1488" y="162" width="491" height="95" fill="#fff" stroke="#000" stroke-width="2" shape-rendering="crispEdges"/>
<text class="lg" transform="translate(1496 223.8) scale(1 1.04)">Mn20 Fe20@SiO<tspan class="sub" dx="0" dy="15.3846">2</tspan></text>
</g>
<g>
<rect x="1604" y="747" width="410" height="95" fill="#000" shape-rendering="crispEdges"/>
<rect x="1579" y="722" width="410" height="94" fill="#fff" stroke="#000" stroke-width="2" shape-rendering="crispEdges"/>
<text class="lg" transform="translate(1587 783.8) scale(1 1.04)">Mn5Fe5@SiO<tspan class="sub" dx="0" dy="15.3846">2</tspan></text>
</g>
<g>
<rect x="1590" y="1299" width="409" height="95" fill="#000" shape-rendering="crispEdges"/>
<rect x="1565" y="1274" width="409" height="94" fill="#fff" stroke="#000" stroke-width="2" shape-rendering="crispEdges"/>
<text class="lg" transform="translate(1573 1335.8) scale(1 1.04)">Mn5Fe1@SiO<tspan class="sub" dx="0" dy="15.3846">2</tspan></text>
</g>
<g>
<rect x="1593" y="1836" width="409" height="95" fill="#000" shape-rendering="crispEdges"/>
<rect x="1568" y="1811" width="409" height="94" fill="#fff" stroke="#000" stroke-width="2" shape-rendering="crispEdges"/>
<text class="lg" transform="translate(1576 1872.8) scale(1 1.04)">Mn1Fe5@SiO<tspan class="sub" dx="0" dy="15.3846">2</tspan></text>
</g>
<g>
<rect x="1578" y="2374" width="409" height="95" fill="#000" shape-rendering="crispEdges"/>
<rect x="1553" y="2349" width="409" height="94" fill="#fff" stroke="#000" stroke-width="2" shape-rendering="crispEdges"/>
<text class="lg" transform="translate(1561 2410.8) scale(1 1.04)">Mn1Fe1@SiO<tspan class="sub" dx="0" dy="15.3846">2</tspan></text>
</g>
</svg></body></html>
